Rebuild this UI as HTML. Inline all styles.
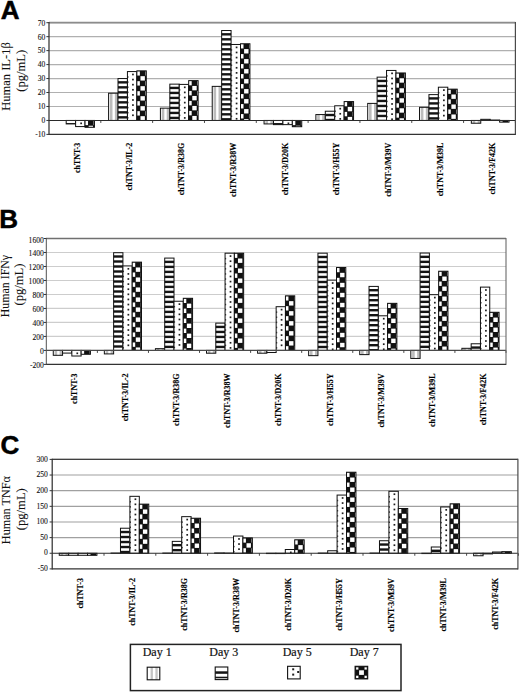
<!DOCTYPE html>
<html><head><meta charset="utf-8"><title>Figure</title>
<style>
html,body{margin:0;padding:0;background:#fff;}
body{width:520px;height:693px;overflow:hidden;font-family:"Liberation Serif", serif;}
svg{display:block;}
</style></head><body>
<svg width="520" height="693" viewBox="0 0 520 693"><rect width="520" height="693" fill="#fff"/><line x1="49" y1="106.48" x2="515.4" y2="106.48" stroke="#b0b0b0" stroke-width="1.15"/>
<line x1="49" y1="92.51" x2="515.4" y2="92.51" stroke="#b0b0b0" stroke-width="1.15"/>
<line x1="49" y1="78.55" x2="515.4" y2="78.55" stroke="#b0b0b0" stroke-width="1.15"/>
<line x1="49" y1="64.59" x2="515.4" y2="64.59" stroke="#b0b0b0" stroke-width="1.15"/>
<line x1="49" y1="50.62" x2="515.4" y2="50.62" stroke="#b0b0b0" stroke-width="1.15"/>
<line x1="49" y1="36.66" x2="515.4" y2="36.66" stroke="#b0b0b0" stroke-width="1.15"/>
<line x1="49" y1="22.7" x2="515.4" y2="22.7" stroke="#b0b0b0" stroke-width="1.15"/>
<line x1="49" y1="22.7" x2="515.4" y2="22.7" stroke="#8c8c8c" stroke-width="1.7"/>
<rect x="66.19" y="120.44" width="9.42" height="3.49" fill="#fff"/>
<rect x="66.19" y="123.04" width="9.42" height="0.89" fill="#141414"/>
<rect x="66.19" y="120.44" width="9.42" height="3.49" fill="none" stroke="#111" stroke-width="1"/>
<rect x="75.61" y="120.44" width="9.42" height="6.14" fill="#fff"/>
<rect x="80.27" y="122.49" width="1.7" height="1.7" fill="#1e1e1e"/>
<rect x="75.61" y="120.44" width="9.42" height="6.14" fill="none" stroke="#111" stroke-width="1"/>
<rect x="85.03" y="120.44" width="9.42" height="6.84" fill="#111"/>
<rect x="85.03" y="120.74" width="3" height="4.4" fill="#fff"/>
<rect x="88.63" y="125.74" width="4.4" height="1.54" fill="#fff"/>
<rect x="93.63" y="120.74" width="0.82" height="4.4" fill="#fff"/>
<rect x="85.03" y="120.44" width="9.42" height="6.84" fill="none" stroke="#111" stroke-width="1"/>
<rect x="108.59" y="93.21" width="9.42" height="27.23" fill="#fff"/>
<rect x="109.89" y="93.21" width="2.6" height="27.23" fill="#bcbcbc"/>
<rect x="114.89" y="93.21" width="2.6" height="27.23" fill="#bcbcbc"/>
<rect x="108.59" y="93.21" width="9.42" height="27.23" fill="none" stroke="#111" stroke-width="1"/>
<rect x="118.01" y="78.55" width="9.42" height="41.89" fill="#fff"/>
<rect x="118.01" y="81.15" width="9.42" height="2.4" fill="#141414"/>
<rect x="118.01" y="86.15" width="9.42" height="2.4" fill="#141414"/>
<rect x="118.01" y="91.15" width="9.42" height="2.4" fill="#141414"/>
<rect x="118.01" y="96.15" width="9.42" height="2.4" fill="#141414"/>
<rect x="118.01" y="101.15" width="9.42" height="2.4" fill="#141414"/>
<rect x="118.01" y="106.15" width="9.42" height="2.4" fill="#141414"/>
<rect x="118.01" y="111.15" width="9.42" height="2.4" fill="#141414"/>
<rect x="118.01" y="116.15" width="9.42" height="2.4" fill="#141414"/>
<rect x="118.01" y="78.55" width="9.42" height="41.89" fill="none" stroke="#111" stroke-width="1"/>
<rect x="127.43" y="71.57" width="9.42" height="48.87" fill="#fff"/>
<rect x="132.09" y="73.62" width="1.7" height="1.7" fill="#1e1e1e"/>
<rect x="132.09" y="78.72" width="1.7" height="1.7" fill="#1e1e1e"/>
<rect x="132.09" y="83.82" width="1.7" height="1.7" fill="#1e1e1e"/>
<rect x="132.09" y="88.92" width="1.7" height="1.7" fill="#1e1e1e"/>
<rect x="132.09" y="94.02" width="1.7" height="1.7" fill="#1e1e1e"/>
<rect x="132.09" y="99.12" width="1.7" height="1.7" fill="#1e1e1e"/>
<rect x="132.09" y="104.22" width="1.7" height="1.7" fill="#1e1e1e"/>
<rect x="132.09" y="109.32" width="1.7" height="1.7" fill="#1e1e1e"/>
<rect x="132.09" y="114.42" width="1.7" height="1.7" fill="#1e1e1e"/>
<rect x="127.43" y="76.27" width="1.1" height="1.5" fill="#444"/>
<rect x="127.43" y="81.37" width="1.1" height="1.5" fill="#444"/>
<rect x="127.43" y="86.47" width="1.1" height="1.5" fill="#444"/>
<rect x="127.43" y="91.57" width="1.1" height="1.5" fill="#444"/>
<rect x="127.43" y="96.67" width="1.1" height="1.5" fill="#444"/>
<rect x="127.43" y="101.77" width="1.1" height="1.5" fill="#444"/>
<rect x="127.43" y="106.87" width="1.1" height="1.5" fill="#444"/>
<rect x="127.43" y="111.97" width="1.1" height="1.5" fill="#444"/>
<rect x="127.43" y="117.07" width="1.1" height="1.5" fill="#444"/>
<rect x="127.43" y="71.57" width="9.42" height="48.87" fill="none" stroke="#111" stroke-width="1"/>
<rect x="136.86" y="70.87" width="9.42" height="49.57" fill="#111"/>
<rect x="136.86" y="71.17" width="3" height="4.4" fill="#fff"/>
<rect x="136.86" y="81.17" width="3" height="4.4" fill="#fff"/>
<rect x="136.86" y="91.17" width="3" height="4.4" fill="#fff"/>
<rect x="136.86" y="101.17" width="3" height="4.4" fill="#fff"/>
<rect x="136.86" y="111.17" width="3" height="4.4" fill="#fff"/>
<rect x="140.46" y="76.17" width="4.4" height="4.4" fill="#fff"/>
<rect x="140.46" y="86.17" width="4.4" height="4.4" fill="#fff"/>
<rect x="140.46" y="96.17" width="4.4" height="4.4" fill="#fff"/>
<rect x="140.46" y="106.17" width="4.4" height="4.4" fill="#fff"/>
<rect x="140.46" y="116.17" width="4.4" height="4.27" fill="#fff"/>
<rect x="145.46" y="71.17" width="0.82" height="4.4" fill="#fff"/>
<rect x="145.46" y="81.17" width="0.82" height="4.4" fill="#fff"/>
<rect x="145.46" y="91.17" width="0.82" height="4.4" fill="#fff"/>
<rect x="145.46" y="101.17" width="0.82" height="4.4" fill="#fff"/>
<rect x="145.46" y="111.17" width="0.82" height="4.4" fill="#fff"/>
<rect x="136.86" y="70.87" width="9.42" height="49.57" fill="none" stroke="#111" stroke-width="1"/>
<rect x="160.41" y="108.15" width="9.42" height="12.29" fill="#fff"/>
<rect x="161.71" y="108.15" width="2.6" height="12.29" fill="#bcbcbc"/>
<rect x="166.71" y="108.15" width="2.6" height="12.29" fill="#bcbcbc"/>
<rect x="160.41" y="108.15" width="9.42" height="12.29" fill="none" stroke="#111" stroke-width="1"/>
<rect x="169.83" y="84.14" width="9.42" height="36.3" fill="#fff"/>
<rect x="169.83" y="86.73" width="9.42" height="2.4" fill="#141414"/>
<rect x="169.83" y="91.73" width="9.42" height="2.4" fill="#141414"/>
<rect x="169.83" y="96.73" width="9.42" height="2.4" fill="#141414"/>
<rect x="169.83" y="101.73" width="9.42" height="2.4" fill="#141414"/>
<rect x="169.83" y="106.73" width="9.42" height="2.4" fill="#141414"/>
<rect x="169.83" y="111.73" width="9.42" height="2.4" fill="#141414"/>
<rect x="169.83" y="116.73" width="9.42" height="2.4" fill="#141414"/>
<rect x="169.83" y="84.14" width="9.42" height="36.3" fill="none" stroke="#111" stroke-width="1"/>
<rect x="179.26" y="84.41" width="9.42" height="36.02" fill="#fff"/>
<rect x="183.92" y="86.46" width="1.7" height="1.7" fill="#1e1e1e"/>
<rect x="183.92" y="91.56" width="1.7" height="1.7" fill="#1e1e1e"/>
<rect x="183.92" y="96.66" width="1.7" height="1.7" fill="#1e1e1e"/>
<rect x="183.92" y="101.76" width="1.7" height="1.7" fill="#1e1e1e"/>
<rect x="183.92" y="106.86" width="1.7" height="1.7" fill="#1e1e1e"/>
<rect x="183.92" y="111.96" width="1.7" height="1.7" fill="#1e1e1e"/>
<rect x="183.92" y="117.06" width="1.7" height="1.7" fill="#1e1e1e"/>
<rect x="179.26" y="89.11" width="1.1" height="1.5" fill="#444"/>
<rect x="179.26" y="94.21" width="1.1" height="1.5" fill="#444"/>
<rect x="179.26" y="99.31" width="1.1" height="1.5" fill="#444"/>
<rect x="179.26" y="104.41" width="1.1" height="1.5" fill="#444"/>
<rect x="179.26" y="109.51" width="1.1" height="1.5" fill="#444"/>
<rect x="179.26" y="114.61" width="1.1" height="1.5" fill="#444"/>
<rect x="179.26" y="84.41" width="9.42" height="36.02" fill="none" stroke="#111" stroke-width="1"/>
<rect x="188.68" y="80.64" width="9.42" height="39.79" fill="#111"/>
<rect x="188.68" y="80.94" width="3" height="4.4" fill="#fff"/>
<rect x="188.68" y="90.94" width="3" height="4.4" fill="#fff"/>
<rect x="188.68" y="100.94" width="3" height="4.4" fill="#fff"/>
<rect x="188.68" y="110.94" width="3" height="4.4" fill="#fff"/>
<rect x="192.28" y="85.94" width="4.4" height="4.4" fill="#fff"/>
<rect x="192.28" y="95.94" width="4.4" height="4.4" fill="#fff"/>
<rect x="192.28" y="105.94" width="4.4" height="4.4" fill="#fff"/>
<rect x="192.28" y="115.94" width="4.4" height="4.4" fill="#fff"/>
<rect x="197.28" y="80.94" width="0.82" height="4.4" fill="#fff"/>
<rect x="197.28" y="90.94" width="0.82" height="4.4" fill="#fff"/>
<rect x="197.28" y="100.94" width="0.82" height="4.4" fill="#fff"/>
<rect x="197.28" y="110.94" width="0.82" height="4.4" fill="#fff"/>
<rect x="188.68" y="80.64" width="9.42" height="39.79" fill="none" stroke="#111" stroke-width="1"/>
<rect x="212.23" y="86.37" width="9.42" height="34.07" fill="#fff"/>
<rect x="213.53" y="86.37" width="2.6" height="34.07" fill="#bcbcbc"/>
<rect x="218.53" y="86.37" width="2.6" height="34.07" fill="#bcbcbc"/>
<rect x="212.23" y="86.37" width="9.42" height="34.07" fill="none" stroke="#111" stroke-width="1"/>
<rect x="221.66" y="30.52" width="9.42" height="89.92" fill="#fff"/>
<rect x="221.66" y="33.12" width="9.42" height="2.4" fill="#141414"/>
<rect x="221.66" y="38.12" width="9.42" height="2.4" fill="#141414"/>
<rect x="221.66" y="43.12" width="9.42" height="2.4" fill="#141414"/>
<rect x="221.66" y="48.12" width="9.42" height="2.4" fill="#141414"/>
<rect x="221.66" y="53.12" width="9.42" height="2.4" fill="#141414"/>
<rect x="221.66" y="58.12" width="9.42" height="2.4" fill="#141414"/>
<rect x="221.66" y="63.12" width="9.42" height="2.4" fill="#141414"/>
<rect x="221.66" y="68.12" width="9.42" height="2.4" fill="#141414"/>
<rect x="221.66" y="73.12" width="9.42" height="2.4" fill="#141414"/>
<rect x="221.66" y="78.12" width="9.42" height="2.4" fill="#141414"/>
<rect x="221.66" y="83.12" width="9.42" height="2.4" fill="#141414"/>
<rect x="221.66" y="88.12" width="9.42" height="2.4" fill="#141414"/>
<rect x="221.66" y="93.12" width="9.42" height="2.4" fill="#141414"/>
<rect x="221.66" y="98.12" width="9.42" height="2.4" fill="#141414"/>
<rect x="221.66" y="103.12" width="9.42" height="2.4" fill="#141414"/>
<rect x="221.66" y="108.12" width="9.42" height="2.4" fill="#141414"/>
<rect x="221.66" y="113.12" width="9.42" height="2.4" fill="#141414"/>
<rect x="221.66" y="118.12" width="9.42" height="2.32" fill="#141414"/>
<rect x="221.66" y="30.52" width="9.42" height="89.92" fill="none" stroke="#111" stroke-width="1"/>
<rect x="231.08" y="44.48" width="9.42" height="75.96" fill="#fff"/>
<rect x="235.74" y="46.53" width="1.7" height="1.7" fill="#1e1e1e"/>
<rect x="235.74" y="51.63" width="1.7" height="1.7" fill="#1e1e1e"/>
<rect x="235.74" y="56.73" width="1.7" height="1.7" fill="#1e1e1e"/>
<rect x="235.74" y="61.83" width="1.7" height="1.7" fill="#1e1e1e"/>
<rect x="235.74" y="66.93" width="1.7" height="1.7" fill="#1e1e1e"/>
<rect x="235.74" y="72.03" width="1.7" height="1.7" fill="#1e1e1e"/>
<rect x="235.74" y="77.13" width="1.7" height="1.7" fill="#1e1e1e"/>
<rect x="235.74" y="82.23" width="1.7" height="1.7" fill="#1e1e1e"/>
<rect x="235.74" y="87.33" width="1.7" height="1.7" fill="#1e1e1e"/>
<rect x="235.74" y="92.43" width="1.7" height="1.7" fill="#1e1e1e"/>
<rect x="235.74" y="97.53" width="1.7" height="1.7" fill="#1e1e1e"/>
<rect x="235.74" y="102.63" width="1.7" height="1.7" fill="#1e1e1e"/>
<rect x="235.74" y="107.73" width="1.7" height="1.7" fill="#1e1e1e"/>
<rect x="235.74" y="112.83" width="1.7" height="1.7" fill="#1e1e1e"/>
<rect x="235.74" y="117.93" width="1.7" height="1.7" fill="#1e1e1e"/>
<rect x="231.08" y="49.18" width="1.1" height="1.5" fill="#444"/>
<rect x="231.08" y="54.28" width="1.1" height="1.5" fill="#444"/>
<rect x="231.08" y="59.38" width="1.1" height="1.5" fill="#444"/>
<rect x="231.08" y="64.48" width="1.1" height="1.5" fill="#444"/>
<rect x="231.08" y="69.58" width="1.1" height="1.5" fill="#444"/>
<rect x="231.08" y="74.68" width="1.1" height="1.5" fill="#444"/>
<rect x="231.08" y="79.78" width="1.1" height="1.5" fill="#444"/>
<rect x="231.08" y="84.88" width="1.1" height="1.5" fill="#444"/>
<rect x="231.08" y="89.98" width="1.1" height="1.5" fill="#444"/>
<rect x="231.08" y="95.08" width="1.1" height="1.5" fill="#444"/>
<rect x="231.08" y="100.18" width="1.1" height="1.5" fill="#444"/>
<rect x="231.08" y="105.28" width="1.1" height="1.5" fill="#444"/>
<rect x="231.08" y="110.38" width="1.1" height="1.5" fill="#444"/>
<rect x="231.08" y="115.48" width="1.1" height="1.5" fill="#444"/>
<rect x="231.08" y="44.48" width="9.42" height="75.96" fill="none" stroke="#111" stroke-width="1"/>
<rect x="240.5" y="43.78" width="9.42" height="76.65" fill="#111"/>
<rect x="240.5" y="44.08" width="3" height="4.4" fill="#fff"/>
<rect x="240.5" y="54.08" width="3" height="4.4" fill="#fff"/>
<rect x="240.5" y="64.08" width="3" height="4.4" fill="#fff"/>
<rect x="240.5" y="74.08" width="3" height="4.4" fill="#fff"/>
<rect x="240.5" y="84.08" width="3" height="4.4" fill="#fff"/>
<rect x="240.5" y="94.08" width="3" height="4.4" fill="#fff"/>
<rect x="240.5" y="104.08" width="3" height="4.4" fill="#fff"/>
<rect x="240.5" y="114.08" width="3" height="4.4" fill="#fff"/>
<rect x="244.1" y="49.08" width="4.4" height="4.4" fill="#fff"/>
<rect x="244.1" y="59.08" width="4.4" height="4.4" fill="#fff"/>
<rect x="244.1" y="69.08" width="4.4" height="4.4" fill="#fff"/>
<rect x="244.1" y="79.08" width="4.4" height="4.4" fill="#fff"/>
<rect x="244.1" y="89.08" width="4.4" height="4.4" fill="#fff"/>
<rect x="244.1" y="99.08" width="4.4" height="4.4" fill="#fff"/>
<rect x="244.1" y="109.08" width="4.4" height="4.4" fill="#fff"/>
<rect x="244.1" y="119.08" width="4.4" height="1.35" fill="#fff"/>
<rect x="249.1" y="44.08" width="0.82" height="4.4" fill="#fff"/>
<rect x="249.1" y="54.08" width="0.82" height="4.4" fill="#fff"/>
<rect x="249.1" y="64.08" width="0.82" height="4.4" fill="#fff"/>
<rect x="249.1" y="74.08" width="0.82" height="4.4" fill="#fff"/>
<rect x="249.1" y="84.08" width="0.82" height="4.4" fill="#fff"/>
<rect x="249.1" y="94.08" width="0.82" height="4.4" fill="#fff"/>
<rect x="249.1" y="104.08" width="0.82" height="4.4" fill="#fff"/>
<rect x="249.1" y="114.08" width="0.82" height="4.4" fill="#fff"/>
<rect x="240.5" y="43.78" width="9.42" height="76.65" fill="none" stroke="#111" stroke-width="1"/>
<rect x="264.06" y="120.44" width="9.42" height="3.49" fill="#fff"/>
<rect x="265.36" y="120.44" width="2.6" height="3.49" fill="#bcbcbc"/>
<rect x="270.36" y="120.44" width="2.6" height="3.49" fill="#bcbcbc"/>
<rect x="264.06" y="120.44" width="9.42" height="3.49" fill="none" stroke="#111" stroke-width="1"/>
<rect x="273.48" y="120.44" width="9.42" height="4.19" fill="#fff"/>
<rect x="273.48" y="123.04" width="9.42" height="1.59" fill="#141414"/>
<rect x="273.48" y="120.44" width="9.42" height="4.19" fill="none" stroke="#111" stroke-width="1"/>
<rect x="282.9" y="120.44" width="9.42" height="4.19" fill="#fff"/>
<rect x="287.56" y="122.49" width="1.7" height="1.7" fill="#1e1e1e"/>
<rect x="282.9" y="120.44" width="9.42" height="4.19" fill="none" stroke="#111" stroke-width="1"/>
<rect x="292.32" y="120.44" width="9.42" height="6.28" fill="#111"/>
<rect x="292.32" y="120.74" width="3" height="4.4" fill="#fff"/>
<rect x="295.92" y="125.74" width="4.4" height="0.98" fill="#fff"/>
<rect x="300.92" y="120.74" width="0.82" height="4.4" fill="#fff"/>
<rect x="292.32" y="120.44" width="9.42" height="6.28" fill="none" stroke="#111" stroke-width="1"/>
<rect x="315.88" y="114.57" width="9.42" height="5.86" fill="#fff"/>
<rect x="317.18" y="114.57" width="2.6" height="5.86" fill="#bcbcbc"/>
<rect x="322.18" y="114.57" width="2.6" height="5.86" fill="#bcbcbc"/>
<rect x="315.88" y="114.57" width="9.42" height="5.86" fill="none" stroke="#111" stroke-width="1"/>
<rect x="325.3" y="111.22" width="9.42" height="9.22" fill="#fff"/>
<rect x="325.3" y="113.82" width="9.42" height="2.4" fill="#141414"/>
<rect x="325.3" y="118.82" width="9.42" height="1.62" fill="#141414"/>
<rect x="325.3" y="111.22" width="9.42" height="9.22" fill="none" stroke="#111" stroke-width="1"/>
<rect x="334.72" y="105.78" width="9.42" height="14.66" fill="#fff"/>
<rect x="339.38" y="107.83" width="1.7" height="1.7" fill="#1e1e1e"/>
<rect x="339.38" y="112.93" width="1.7" height="1.7" fill="#1e1e1e"/>
<rect x="339.38" y="118.03" width="1.7" height="1.7" fill="#1e1e1e"/>
<rect x="334.72" y="110.48" width="1.1" height="1.5" fill="#444"/>
<rect x="334.72" y="115.58" width="1.1" height="1.5" fill="#444"/>
<rect x="334.72" y="105.78" width="9.42" height="14.66" fill="none" stroke="#111" stroke-width="1"/>
<rect x="344.14" y="101.59" width="9.42" height="18.85" fill="#111"/>
<rect x="344.14" y="101.89" width="3" height="4.4" fill="#fff"/>
<rect x="344.14" y="111.89" width="3" height="4.4" fill="#fff"/>
<rect x="347.74" y="106.89" width="4.4" height="4.4" fill="#fff"/>
<rect x="347.74" y="116.89" width="4.4" height="3.55" fill="#fff"/>
<rect x="352.74" y="101.89" width="0.82" height="4.4" fill="#fff"/>
<rect x="352.74" y="111.89" width="0.82" height="4.4" fill="#fff"/>
<rect x="344.14" y="101.59" width="9.42" height="18.85" fill="none" stroke="#111" stroke-width="1"/>
<rect x="367.7" y="103.4" width="9.42" height="17.03" fill="#fff"/>
<rect x="369" y="103.4" width="2.6" height="17.03" fill="#bcbcbc"/>
<rect x="374" y="103.4" width="2.6" height="17.03" fill="#bcbcbc"/>
<rect x="367.7" y="103.4" width="9.42" height="17.03" fill="none" stroke="#111" stroke-width="1"/>
<rect x="377.12" y="77.15" width="9.42" height="43.28" fill="#fff"/>
<rect x="377.12" y="79.75" width="9.42" height="2.4" fill="#141414"/>
<rect x="377.12" y="84.75" width="9.42" height="2.4" fill="#141414"/>
<rect x="377.12" y="89.75" width="9.42" height="2.4" fill="#141414"/>
<rect x="377.12" y="94.75" width="9.42" height="2.4" fill="#141414"/>
<rect x="377.12" y="99.75" width="9.42" height="2.4" fill="#141414"/>
<rect x="377.12" y="104.75" width="9.42" height="2.4" fill="#141414"/>
<rect x="377.12" y="109.75" width="9.42" height="2.4" fill="#141414"/>
<rect x="377.12" y="114.75" width="9.42" height="2.4" fill="#141414"/>
<rect x="377.12" y="119.75" width="9.42" height="0.68" fill="#141414"/>
<rect x="377.12" y="77.15" width="9.42" height="43.28" fill="none" stroke="#111" stroke-width="1"/>
<rect x="386.54" y="70.45" width="9.42" height="49.99" fill="#fff"/>
<rect x="391.21" y="72.5" width="1.7" height="1.7" fill="#1e1e1e"/>
<rect x="391.21" y="77.6" width="1.7" height="1.7" fill="#1e1e1e"/>
<rect x="391.21" y="82.7" width="1.7" height="1.7" fill="#1e1e1e"/>
<rect x="391.21" y="87.8" width="1.7" height="1.7" fill="#1e1e1e"/>
<rect x="391.21" y="92.9" width="1.7" height="1.7" fill="#1e1e1e"/>
<rect x="391.21" y="98" width="1.7" height="1.7" fill="#1e1e1e"/>
<rect x="391.21" y="103.1" width="1.7" height="1.7" fill="#1e1e1e"/>
<rect x="391.21" y="108.2" width="1.7" height="1.7" fill="#1e1e1e"/>
<rect x="391.21" y="113.3" width="1.7" height="1.7" fill="#1e1e1e"/>
<rect x="391.21" y="118.4" width="1.7" height="1.7" fill="#1e1e1e"/>
<rect x="386.54" y="75.15" width="1.1" height="1.5" fill="#444"/>
<rect x="386.54" y="80.25" width="1.1" height="1.5" fill="#444"/>
<rect x="386.54" y="85.35" width="1.1" height="1.5" fill="#444"/>
<rect x="386.54" y="90.45" width="1.1" height="1.5" fill="#444"/>
<rect x="386.54" y="95.55" width="1.1" height="1.5" fill="#444"/>
<rect x="386.54" y="100.65" width="1.1" height="1.5" fill="#444"/>
<rect x="386.54" y="105.75" width="1.1" height="1.5" fill="#444"/>
<rect x="386.54" y="110.85" width="1.1" height="1.5" fill="#444"/>
<rect x="386.54" y="115.95" width="1.1" height="1.5" fill="#444"/>
<rect x="386.54" y="70.45" width="9.42" height="49.99" fill="none" stroke="#111" stroke-width="1"/>
<rect x="395.97" y="72.97" width="9.42" height="47.47" fill="#111"/>
<rect x="395.97" y="73.27" width="3" height="4.4" fill="#fff"/>
<rect x="395.97" y="83.27" width="3" height="4.4" fill="#fff"/>
<rect x="395.97" y="93.27" width="3" height="4.4" fill="#fff"/>
<rect x="395.97" y="103.27" width="3" height="4.4" fill="#fff"/>
<rect x="395.97" y="113.27" width="3" height="4.4" fill="#fff"/>
<rect x="399.57" y="78.27" width="4.4" height="4.4" fill="#fff"/>
<rect x="399.57" y="88.27" width="4.4" height="4.4" fill="#fff"/>
<rect x="399.57" y="98.27" width="4.4" height="4.4" fill="#fff"/>
<rect x="399.57" y="108.27" width="4.4" height="4.4" fill="#fff"/>
<rect x="399.57" y="118.27" width="4.4" height="2.17" fill="#fff"/>
<rect x="404.57" y="73.27" width="0.82" height="4.4" fill="#fff"/>
<rect x="404.57" y="83.27" width="0.82" height="4.4" fill="#fff"/>
<rect x="404.57" y="93.27" width="0.82" height="4.4" fill="#fff"/>
<rect x="404.57" y="103.27" width="0.82" height="4.4" fill="#fff"/>
<rect x="404.57" y="113.27" width="0.82" height="4.4" fill="#fff"/>
<rect x="395.97" y="72.97" width="9.42" height="47.47" fill="none" stroke="#111" stroke-width="1"/>
<rect x="419.52" y="107.31" width="9.42" height="13.12" fill="#fff"/>
<rect x="420.82" y="107.31" width="2.6" height="13.12" fill="#bcbcbc"/>
<rect x="425.82" y="107.31" width="2.6" height="13.12" fill="#bcbcbc"/>
<rect x="419.52" y="107.31" width="9.42" height="13.12" fill="none" stroke="#111" stroke-width="1"/>
<rect x="428.94" y="94.61" width="9.42" height="25.83" fill="#fff"/>
<rect x="428.94" y="97.21" width="9.42" height="2.4" fill="#141414"/>
<rect x="428.94" y="102.21" width="9.42" height="2.4" fill="#141414"/>
<rect x="428.94" y="107.21" width="9.42" height="2.4" fill="#141414"/>
<rect x="428.94" y="112.21" width="9.42" height="2.4" fill="#141414"/>
<rect x="428.94" y="117.21" width="9.42" height="2.4" fill="#141414"/>
<rect x="428.94" y="94.61" width="9.42" height="25.83" fill="none" stroke="#111" stroke-width="1"/>
<rect x="438.37" y="87.21" width="9.42" height="33.23" fill="#fff"/>
<rect x="443.03" y="89.26" width="1.7" height="1.7" fill="#1e1e1e"/>
<rect x="443.03" y="94.36" width="1.7" height="1.7" fill="#1e1e1e"/>
<rect x="443.03" y="99.46" width="1.7" height="1.7" fill="#1e1e1e"/>
<rect x="443.03" y="104.56" width="1.7" height="1.7" fill="#1e1e1e"/>
<rect x="443.03" y="109.66" width="1.7" height="1.7" fill="#1e1e1e"/>
<rect x="443.03" y="114.76" width="1.7" height="1.7" fill="#1e1e1e"/>
<rect x="438.37" y="91.91" width="1.1" height="1.5" fill="#444"/>
<rect x="438.37" y="97.01" width="1.1" height="1.5" fill="#444"/>
<rect x="438.37" y="102.11" width="1.1" height="1.5" fill="#444"/>
<rect x="438.37" y="107.21" width="1.1" height="1.5" fill="#444"/>
<rect x="438.37" y="112.31" width="1.1" height="1.5" fill="#444"/>
<rect x="438.37" y="117.41" width="1.1" height="1.5" fill="#444"/>
<rect x="438.37" y="87.21" width="9.42" height="33.23" fill="none" stroke="#111" stroke-width="1"/>
<rect x="447.79" y="89.16" width="9.42" height="31.28" fill="#111"/>
<rect x="447.79" y="89.46" width="3" height="4.4" fill="#fff"/>
<rect x="447.79" y="99.46" width="3" height="4.4" fill="#fff"/>
<rect x="447.79" y="109.46" width="3" height="4.4" fill="#fff"/>
<rect x="447.79" y="119.46" width="3" height="0.98" fill="#fff"/>
<rect x="451.39" y="94.46" width="4.4" height="4.4" fill="#fff"/>
<rect x="451.39" y="104.46" width="4.4" height="4.4" fill="#fff"/>
<rect x="451.39" y="114.46" width="4.4" height="4.4" fill="#fff"/>
<rect x="456.39" y="89.46" width="0.82" height="4.4" fill="#fff"/>
<rect x="456.39" y="99.46" width="0.82" height="4.4" fill="#fff"/>
<rect x="456.39" y="109.46" width="0.82" height="4.4" fill="#fff"/>
<rect x="456.39" y="119.46" width="0.82" height="0.98" fill="#fff"/>
<rect x="447.79" y="89.16" width="9.42" height="31.28" fill="none" stroke="#111" stroke-width="1"/>
<rect x="471.34" y="120.44" width="9.42" height="2.79" fill="#fff"/>
<rect x="472.64" y="120.44" width="2.6" height="2.79" fill="#bcbcbc"/>
<rect x="477.64" y="120.44" width="2.6" height="2.79" fill="#bcbcbc"/>
<rect x="471.34" y="120.44" width="9.42" height="2.79" fill="none" stroke="#111" stroke-width="1"/>
<rect x="480.77" y="119.32" width="9.42" height="1.12" fill="#fff"/>
<rect x="480.77" y="119.32" width="9.42" height="1.12" fill="none" stroke="#111" stroke-width="1"/>
<rect x="490.19" y="120.02" width="9.42" height="0.42" fill="#fff"/>
<rect x="490.19" y="120.02" width="9.42" height="0.42" fill="none" stroke="#111" stroke-width="1"/>
<rect x="499.61" y="120.44" width="9.42" height="1.68" fill="#111"/>
<rect x="499.61" y="120.74" width="3" height="1.38" fill="#fff"/>
<rect x="508.21" y="120.74" width="0.82" height="1.38" fill="#fff"/>
<rect x="499.61" y="120.44" width="9.42" height="1.68" fill="none" stroke="#111" stroke-width="1"/>
<line x1="49" y1="120.44" x2="515.4" y2="120.44" stroke="#2a2a2a" stroke-width="1.1"/>
<line x1="100.82" y1="120.44" x2="100.82" y2="122.94" stroke="#333" stroke-width="0.9"/>
<line x1="152.64" y1="120.44" x2="152.64" y2="122.94" stroke="#333" stroke-width="0.9"/>
<line x1="204.47" y1="120.44" x2="204.47" y2="122.94" stroke="#333" stroke-width="0.9"/>
<line x1="256.29" y1="120.44" x2="256.29" y2="122.94" stroke="#333" stroke-width="0.9"/>
<line x1="308.11" y1="120.44" x2="308.11" y2="122.94" stroke="#333" stroke-width="0.9"/>
<line x1="359.93" y1="120.44" x2="359.93" y2="122.94" stroke="#333" stroke-width="0.9"/>
<line x1="411.76" y1="120.44" x2="411.76" y2="122.94" stroke="#333" stroke-width="0.9"/>
<line x1="463.58" y1="120.44" x2="463.58" y2="122.94" stroke="#333" stroke-width="0.9"/>
<line x1="515.4" y1="120.44" x2="515.4" y2="122.94" stroke="#333" stroke-width="0.9"/>
<line x1="49" y1="22.1" x2="49" y2="135" stroke="#2a2a2a" stroke-width="1.2"/>
<line x1="515.4" y1="22.1" x2="515.4" y2="135" stroke="#4a4a4a" stroke-width="1.2"/>
<line x1="49" y1="134.4" x2="515.4" y2="134.4" stroke="#333" stroke-width="1.3"/>
<line x1="46.4" y1="134.4" x2="49" y2="134.4" stroke="#333" stroke-width="1"/>
<text x="45.3" y="137.25" font-family='"Liberation Serif", serif' font-size="7.6" text-anchor="end" fill="#111" stroke="#111" stroke-width="0.1">-10</text>
<line x1="46.4" y1="120.44" x2="49" y2="120.44" stroke="#333" stroke-width="1"/>
<text x="45.3" y="123.29" font-family='"Liberation Serif", serif' font-size="7.6" text-anchor="end" fill="#111" stroke="#111" stroke-width="0.1">0</text>
<line x1="46.4" y1="106.48" x2="49" y2="106.48" stroke="#333" stroke-width="1"/>
<text x="45.3" y="109.33" font-family='"Liberation Serif", serif' font-size="7.6" text-anchor="end" fill="#111" stroke="#111" stroke-width="0.1">10</text>
<line x1="46.4" y1="92.51" x2="49" y2="92.51" stroke="#333" stroke-width="1"/>
<text x="45.3" y="95.36" font-family='"Liberation Serif", serif' font-size="7.6" text-anchor="end" fill="#111" stroke="#111" stroke-width="0.1">20</text>
<line x1="46.4" y1="78.55" x2="49" y2="78.55" stroke="#333" stroke-width="1"/>
<text x="45.3" y="81.4" font-family='"Liberation Serif", serif' font-size="7.6" text-anchor="end" fill="#111" stroke="#111" stroke-width="0.1">30</text>
<line x1="46.4" y1="64.59" x2="49" y2="64.59" stroke="#333" stroke-width="1"/>
<text x="45.3" y="67.44" font-family='"Liberation Serif", serif' font-size="7.6" text-anchor="end" fill="#111" stroke="#111" stroke-width="0.1">40</text>
<line x1="46.4" y1="50.62" x2="49" y2="50.62" stroke="#333" stroke-width="1"/>
<text x="45.3" y="53.48" font-family='"Liberation Serif", serif' font-size="7.6" text-anchor="end" fill="#111" stroke="#111" stroke-width="0.1">50</text>
<line x1="46.4" y1="36.66" x2="49" y2="36.66" stroke="#333" stroke-width="1"/>
<text x="45.3" y="39.51" font-family='"Liberation Serif", serif' font-size="7.6" text-anchor="end" fill="#111" stroke="#111" stroke-width="0.1">60</text>
<line x1="46.4" y1="22.7" x2="49" y2="22.7" stroke="#333" stroke-width="1"/>
<text x="45.3" y="25.55" font-family='"Liberation Serif", serif' font-size="7.6" text-anchor="end" fill="#111" stroke="#111" stroke-width="0.1">70</text>
<text transform="translate(80.21,142.7) rotate(-90)" font-family='"Liberation Serif", serif' font-weight="bold" font-size="8.0" text-anchor="end" fill="#000" stroke="#000" stroke-width="0.15">chTNT-3</text>
<text transform="translate(132.03,142.7) rotate(-90)" font-family='"Liberation Serif", serif' font-weight="bold" font-size="8.0" text-anchor="end" fill="#000" stroke="#000" stroke-width="0.15">chTNT-3/IL-2</text>
<text transform="translate(183.86,142.7) rotate(-90)" font-family='"Liberation Serif", serif' font-weight="bold" font-size="8.0" text-anchor="end" fill="#000" stroke="#000" stroke-width="0.15">chTNT-3/R38G</text>
<text transform="translate(235.68,142.7) rotate(-90)" font-family='"Liberation Serif", serif' font-weight="bold" font-size="8.0" text-anchor="end" fill="#000" stroke="#000" stroke-width="0.15">chTNT-3/R38W</text>
<text transform="translate(287.5,142.7) rotate(-90)" font-family='"Liberation Serif", serif' font-weight="bold" font-size="8.0" text-anchor="end" fill="#000" stroke="#000" stroke-width="0.15">chTNT-3/D20K</text>
<text transform="translate(339.32,142.7) rotate(-90)" font-family='"Liberation Serif", serif' font-weight="bold" font-size="8.0" text-anchor="end" fill="#000" stroke="#000" stroke-width="0.15">chTNT-3/H55Y</text>
<text transform="translate(391.14,142.7) rotate(-90)" font-family='"Liberation Serif", serif' font-weight="bold" font-size="8.0" text-anchor="end" fill="#000" stroke="#000" stroke-width="0.15">chTNT-3/M39V</text>
<text transform="translate(442.97,142.7) rotate(-90)" font-family='"Liberation Serif", serif' font-weight="bold" font-size="8.0" text-anchor="end" fill="#000" stroke="#000" stroke-width="0.15">chTNT-3/M39L</text>
<text transform="translate(494.79,142.7) rotate(-90)" font-family='"Liberation Serif", serif' font-weight="bold" font-size="8.0" text-anchor="end" fill="#000" stroke="#000" stroke-width="0.15">chTNT-3/F42K</text>
<text transform="translate(10,76.5) rotate(-90)" font-family='"Liberation Serif", serif' font-size="12.5" text-anchor="middle" fill="#111" stroke="#111" stroke-width="0.08">Human IL-1β</text>
<text transform="translate(24.9,70.8) rotate(-90)" font-family='"Liberation Serif", serif' font-size="12.6" text-anchor="middle" fill="#111" stroke="#111" stroke-width="0.08">(pg/mL)</text>
<line x1="46.3" y1="336.42" x2="506" y2="336.42" stroke="#cdcdcd" stroke-width="1.15"/>
<line x1="46.3" y1="322.43" x2="506" y2="322.43" stroke="#cdcdcd" stroke-width="1.15"/>
<line x1="46.3" y1="308.44" x2="506" y2="308.44" stroke="#cdcdcd" stroke-width="1.15"/>
<line x1="46.3" y1="294.46" x2="506" y2="294.46" stroke="#cdcdcd" stroke-width="1.15"/>
<line x1="46.3" y1="280.47" x2="506" y2="280.47" stroke="#cdcdcd" stroke-width="1.15"/>
<line x1="46.3" y1="266.48" x2="506" y2="266.48" stroke="#cdcdcd" stroke-width="1.15"/>
<line x1="46.3" y1="252.49" x2="506" y2="252.49" stroke="#cdcdcd" stroke-width="1.15"/>
<line x1="46.3" y1="238.5" x2="506" y2="238.5" stroke="#cdcdcd" stroke-width="1.15"/>
<line x1="46.3" y1="238.5" x2="506" y2="238.5" stroke="#707070" stroke-width="1.3"/>
<rect x="53.27" y="350.41" width="9.29" height="4.9" fill="#fff"/>
<rect x="54.57" y="350.41" width="2.6" height="4.9" fill="#bcbcbc"/>
<rect x="59.57" y="350.41" width="2.6" height="4.9" fill="#bcbcbc"/>
<rect x="53.27" y="350.41" width="9.29" height="4.9" fill="none" stroke="#111" stroke-width="1"/>
<rect x="62.55" y="350.41" width="9.29" height="2.66" fill="#fff"/>
<rect x="62.55" y="353.01" width="9.29" height="0.06" fill="#141414"/>
<rect x="62.55" y="350.41" width="9.29" height="2.66" fill="none" stroke="#111" stroke-width="1"/>
<rect x="71.84" y="350.41" width="9.29" height="5.6" fill="#fff"/>
<rect x="76.43" y="352.46" width="1.7" height="1.7" fill="#1e1e1e"/>
<rect x="71.84" y="350.41" width="9.29" height="5.6" fill="none" stroke="#111" stroke-width="1"/>
<rect x="81.13" y="350.41" width="9.29" height="3.85" fill="#111"/>
<rect x="81.13" y="350.71" width="3" height="3.55" fill="#fff"/>
<rect x="89.73" y="350.71" width="0.69" height="3.55" fill="#fff"/>
<rect x="81.13" y="350.41" width="9.29" height="3.85" fill="none" stroke="#111" stroke-width="1"/>
<rect x="104.34" y="350.41" width="9.29" height="3.5" fill="#fff"/>
<rect x="105.64" y="350.41" width="2.6" height="3.5" fill="#bcbcbc"/>
<rect x="110.64" y="350.41" width="2.6" height="3.5" fill="#bcbcbc"/>
<rect x="104.34" y="350.41" width="9.29" height="3.5" fill="none" stroke="#111" stroke-width="1"/>
<rect x="113.63" y="252.7" width="9.29" height="97.71" fill="#fff"/>
<rect x="113.63" y="255.3" width="9.29" height="2.4" fill="#141414"/>
<rect x="113.63" y="260.3" width="9.29" height="2.4" fill="#141414"/>
<rect x="113.63" y="265.3" width="9.29" height="2.4" fill="#141414"/>
<rect x="113.63" y="270.3" width="9.29" height="2.4" fill="#141414"/>
<rect x="113.63" y="275.3" width="9.29" height="2.4" fill="#141414"/>
<rect x="113.63" y="280.3" width="9.29" height="2.4" fill="#141414"/>
<rect x="113.63" y="285.3" width="9.29" height="2.4" fill="#141414"/>
<rect x="113.63" y="290.3" width="9.29" height="2.4" fill="#141414"/>
<rect x="113.63" y="295.3" width="9.29" height="2.4" fill="#141414"/>
<rect x="113.63" y="300.3" width="9.29" height="2.4" fill="#141414"/>
<rect x="113.63" y="305.3" width="9.29" height="2.4" fill="#141414"/>
<rect x="113.63" y="310.3" width="9.29" height="2.4" fill="#141414"/>
<rect x="113.63" y="315.3" width="9.29" height="2.4" fill="#141414"/>
<rect x="113.63" y="320.3" width="9.29" height="2.4" fill="#141414"/>
<rect x="113.63" y="325.3" width="9.29" height="2.4" fill="#141414"/>
<rect x="113.63" y="330.3" width="9.29" height="2.4" fill="#141414"/>
<rect x="113.63" y="335.3" width="9.29" height="2.4" fill="#141414"/>
<rect x="113.63" y="340.3" width="9.29" height="2.4" fill="#141414"/>
<rect x="113.63" y="345.3" width="9.29" height="2.4" fill="#141414"/>
<rect x="113.63" y="350.3" width="9.29" height="0.11" fill="#141414"/>
<rect x="113.63" y="252.7" width="9.29" height="97.71" fill="none" stroke="#111" stroke-width="1"/>
<rect x="122.92" y="265.92" width="9.29" height="84.49" fill="#fff"/>
<rect x="127.51" y="267.97" width="1.7" height="1.7" fill="#1e1e1e"/>
<rect x="127.51" y="273.07" width="1.7" height="1.7" fill="#1e1e1e"/>
<rect x="127.51" y="278.17" width="1.7" height="1.7" fill="#1e1e1e"/>
<rect x="127.51" y="283.27" width="1.7" height="1.7" fill="#1e1e1e"/>
<rect x="127.51" y="288.37" width="1.7" height="1.7" fill="#1e1e1e"/>
<rect x="127.51" y="293.47" width="1.7" height="1.7" fill="#1e1e1e"/>
<rect x="127.51" y="298.57" width="1.7" height="1.7" fill="#1e1e1e"/>
<rect x="127.51" y="303.67" width="1.7" height="1.7" fill="#1e1e1e"/>
<rect x="127.51" y="308.77" width="1.7" height="1.7" fill="#1e1e1e"/>
<rect x="127.51" y="313.87" width="1.7" height="1.7" fill="#1e1e1e"/>
<rect x="127.51" y="318.97" width="1.7" height="1.7" fill="#1e1e1e"/>
<rect x="127.51" y="324.07" width="1.7" height="1.7" fill="#1e1e1e"/>
<rect x="127.51" y="329.17" width="1.7" height="1.7" fill="#1e1e1e"/>
<rect x="127.51" y="334.27" width="1.7" height="1.7" fill="#1e1e1e"/>
<rect x="127.51" y="339.37" width="1.7" height="1.7" fill="#1e1e1e"/>
<rect x="127.51" y="344.47" width="1.7" height="1.7" fill="#1e1e1e"/>
<rect x="122.92" y="270.62" width="1.1" height="1.5" fill="#444"/>
<rect x="122.92" y="275.72" width="1.1" height="1.5" fill="#444"/>
<rect x="122.92" y="280.82" width="1.1" height="1.5" fill="#444"/>
<rect x="122.92" y="285.92" width="1.1" height="1.5" fill="#444"/>
<rect x="122.92" y="291.02" width="1.1" height="1.5" fill="#444"/>
<rect x="122.92" y="296.12" width="1.1" height="1.5" fill="#444"/>
<rect x="122.92" y="301.22" width="1.1" height="1.5" fill="#444"/>
<rect x="122.92" y="306.32" width="1.1" height="1.5" fill="#444"/>
<rect x="122.92" y="311.42" width="1.1" height="1.5" fill="#444"/>
<rect x="122.92" y="316.52" width="1.1" height="1.5" fill="#444"/>
<rect x="122.92" y="321.62" width="1.1" height="1.5" fill="#444"/>
<rect x="122.92" y="326.72" width="1.1" height="1.5" fill="#444"/>
<rect x="122.92" y="331.82" width="1.1" height="1.5" fill="#444"/>
<rect x="122.92" y="336.92" width="1.1" height="1.5" fill="#444"/>
<rect x="122.92" y="342.02" width="1.1" height="1.5" fill="#444"/>
<rect x="122.92" y="347.12" width="1.1" height="1.5" fill="#444"/>
<rect x="122.92" y="265.92" width="9.29" height="84.49" fill="none" stroke="#111" stroke-width="1"/>
<rect x="132.2" y="262.14" width="9.29" height="88.27" fill="#111"/>
<rect x="132.2" y="262.44" width="3" height="4.4" fill="#fff"/>
<rect x="132.2" y="272.44" width="3" height="4.4" fill="#fff"/>
<rect x="132.2" y="282.44" width="3" height="4.4" fill="#fff"/>
<rect x="132.2" y="292.44" width="3" height="4.4" fill="#fff"/>
<rect x="132.2" y="302.44" width="3" height="4.4" fill="#fff"/>
<rect x="132.2" y="312.44" width="3" height="4.4" fill="#fff"/>
<rect x="132.2" y="322.44" width="3" height="4.4" fill="#fff"/>
<rect x="132.2" y="332.44" width="3" height="4.4" fill="#fff"/>
<rect x="132.2" y="342.44" width="3" height="4.4" fill="#fff"/>
<rect x="135.8" y="267.44" width="4.4" height="4.4" fill="#fff"/>
<rect x="135.8" y="277.44" width="4.4" height="4.4" fill="#fff"/>
<rect x="135.8" y="287.44" width="4.4" height="4.4" fill="#fff"/>
<rect x="135.8" y="297.44" width="4.4" height="4.4" fill="#fff"/>
<rect x="135.8" y="307.44" width="4.4" height="4.4" fill="#fff"/>
<rect x="135.8" y="317.44" width="4.4" height="4.4" fill="#fff"/>
<rect x="135.8" y="327.44" width="4.4" height="4.4" fill="#fff"/>
<rect x="135.8" y="337.44" width="4.4" height="4.4" fill="#fff"/>
<rect x="135.8" y="347.44" width="4.4" height="2.97" fill="#fff"/>
<rect x="140.8" y="262.44" width="0.69" height="4.4" fill="#fff"/>
<rect x="140.8" y="272.44" width="0.69" height="4.4" fill="#fff"/>
<rect x="140.8" y="282.44" width="0.69" height="4.4" fill="#fff"/>
<rect x="140.8" y="292.44" width="0.69" height="4.4" fill="#fff"/>
<rect x="140.8" y="302.44" width="0.69" height="4.4" fill="#fff"/>
<rect x="140.8" y="312.44" width="0.69" height="4.4" fill="#fff"/>
<rect x="140.8" y="322.44" width="0.69" height="4.4" fill="#fff"/>
<rect x="140.8" y="332.44" width="0.69" height="4.4" fill="#fff"/>
<rect x="140.8" y="342.44" width="0.69" height="4.4" fill="#fff"/>
<rect x="132.2" y="262.14" width="9.29" height="88.27" fill="none" stroke="#111" stroke-width="1"/>
<rect x="155.42" y="348.66" width="9.29" height="1.75" fill="#fff"/>
<rect x="156.72" y="348.66" width="2.6" height="1.75" fill="#bcbcbc"/>
<rect x="161.72" y="348.66" width="2.6" height="1.75" fill="#bcbcbc"/>
<rect x="155.42" y="348.66" width="9.29" height="1.75" fill="none" stroke="#111" stroke-width="1"/>
<rect x="164.71" y="258.08" width="9.29" height="92.33" fill="#fff"/>
<rect x="164.71" y="260.68" width="9.29" height="2.4" fill="#141414"/>
<rect x="164.71" y="265.68" width="9.29" height="2.4" fill="#141414"/>
<rect x="164.71" y="270.68" width="9.29" height="2.4" fill="#141414"/>
<rect x="164.71" y="275.68" width="9.29" height="2.4" fill="#141414"/>
<rect x="164.71" y="280.68" width="9.29" height="2.4" fill="#141414"/>
<rect x="164.71" y="285.68" width="9.29" height="2.4" fill="#141414"/>
<rect x="164.71" y="290.68" width="9.29" height="2.4" fill="#141414"/>
<rect x="164.71" y="295.68" width="9.29" height="2.4" fill="#141414"/>
<rect x="164.71" y="300.68" width="9.29" height="2.4" fill="#141414"/>
<rect x="164.71" y="305.68" width="9.29" height="2.4" fill="#141414"/>
<rect x="164.71" y="310.68" width="9.29" height="2.4" fill="#141414"/>
<rect x="164.71" y="315.68" width="9.29" height="2.4" fill="#141414"/>
<rect x="164.71" y="320.68" width="9.29" height="2.4" fill="#141414"/>
<rect x="164.71" y="325.68" width="9.29" height="2.4" fill="#141414"/>
<rect x="164.71" y="330.68" width="9.29" height="2.4" fill="#141414"/>
<rect x="164.71" y="335.68" width="9.29" height="2.4" fill="#141414"/>
<rect x="164.71" y="340.68" width="9.29" height="2.4" fill="#141414"/>
<rect x="164.71" y="345.68" width="9.29" height="2.4" fill="#141414"/>
<rect x="164.71" y="258.08" width="9.29" height="92.33" fill="none" stroke="#111" stroke-width="1"/>
<rect x="173.99" y="301.24" width="9.29" height="49.17" fill="#fff"/>
<rect x="178.59" y="303.29" width="1.7" height="1.7" fill="#1e1e1e"/>
<rect x="178.59" y="308.39" width="1.7" height="1.7" fill="#1e1e1e"/>
<rect x="178.59" y="313.49" width="1.7" height="1.7" fill="#1e1e1e"/>
<rect x="178.59" y="318.59" width="1.7" height="1.7" fill="#1e1e1e"/>
<rect x="178.59" y="323.69" width="1.7" height="1.7" fill="#1e1e1e"/>
<rect x="178.59" y="328.79" width="1.7" height="1.7" fill="#1e1e1e"/>
<rect x="178.59" y="333.89" width="1.7" height="1.7" fill="#1e1e1e"/>
<rect x="178.59" y="338.99" width="1.7" height="1.7" fill="#1e1e1e"/>
<rect x="178.59" y="344.09" width="1.7" height="1.7" fill="#1e1e1e"/>
<rect x="173.99" y="305.94" width="1.1" height="1.5" fill="#444"/>
<rect x="173.99" y="311.04" width="1.1" height="1.5" fill="#444"/>
<rect x="173.99" y="316.14" width="1.1" height="1.5" fill="#444"/>
<rect x="173.99" y="321.24" width="1.1" height="1.5" fill="#444"/>
<rect x="173.99" y="326.34" width="1.1" height="1.5" fill="#444"/>
<rect x="173.99" y="331.44" width="1.1" height="1.5" fill="#444"/>
<rect x="173.99" y="336.54" width="1.1" height="1.5" fill="#444"/>
<rect x="173.99" y="341.64" width="1.1" height="1.5" fill="#444"/>
<rect x="173.99" y="346.74" width="1.1" height="1.5" fill="#444"/>
<rect x="173.99" y="301.24" width="9.29" height="49.17" fill="none" stroke="#111" stroke-width="1"/>
<rect x="183.28" y="298.3" width="9.29" height="52.11" fill="#111"/>
<rect x="183.28" y="298.6" width="3" height="4.4" fill="#fff"/>
<rect x="183.28" y="308.6" width="3" height="4.4" fill="#fff"/>
<rect x="183.28" y="318.6" width="3" height="4.4" fill="#fff"/>
<rect x="183.28" y="328.6" width="3" height="4.4" fill="#fff"/>
<rect x="183.28" y="338.6" width="3" height="4.4" fill="#fff"/>
<rect x="183.28" y="348.6" width="3" height="1.81" fill="#fff"/>
<rect x="186.88" y="303.6" width="4.4" height="4.4" fill="#fff"/>
<rect x="186.88" y="313.6" width="4.4" height="4.4" fill="#fff"/>
<rect x="186.88" y="323.6" width="4.4" height="4.4" fill="#fff"/>
<rect x="186.88" y="333.6" width="4.4" height="4.4" fill="#fff"/>
<rect x="186.88" y="343.6" width="4.4" height="4.4" fill="#fff"/>
<rect x="191.88" y="298.6" width="0.69" height="4.4" fill="#fff"/>
<rect x="191.88" y="308.6" width="0.69" height="4.4" fill="#fff"/>
<rect x="191.88" y="318.6" width="0.69" height="4.4" fill="#fff"/>
<rect x="191.88" y="328.6" width="0.69" height="4.4" fill="#fff"/>
<rect x="191.88" y="338.6" width="0.69" height="4.4" fill="#fff"/>
<rect x="191.88" y="348.6" width="0.69" height="1.81" fill="#fff"/>
<rect x="183.28" y="298.3" width="9.29" height="52.11" fill="none" stroke="#111" stroke-width="1"/>
<rect x="206.5" y="350.41" width="9.29" height="2.8" fill="#fff"/>
<rect x="207.8" y="350.41" width="2.6" height="2.8" fill="#bcbcbc"/>
<rect x="212.8" y="350.41" width="2.6" height="2.8" fill="#bcbcbc"/>
<rect x="206.5" y="350.41" width="9.29" height="2.8" fill="none" stroke="#111" stroke-width="1"/>
<rect x="215.79" y="323.13" width="9.29" height="27.28" fill="#fff"/>
<rect x="215.79" y="325.73" width="9.29" height="2.4" fill="#141414"/>
<rect x="215.79" y="330.73" width="9.29" height="2.4" fill="#141414"/>
<rect x="215.79" y="335.73" width="9.29" height="2.4" fill="#141414"/>
<rect x="215.79" y="340.73" width="9.29" height="2.4" fill="#141414"/>
<rect x="215.79" y="345.73" width="9.29" height="2.4" fill="#141414"/>
<rect x="215.79" y="323.13" width="9.29" height="27.28" fill="none" stroke="#111" stroke-width="1"/>
<rect x="225.07" y="253.19" width="9.29" height="97.22" fill="#fff"/>
<rect x="229.67" y="255.24" width="1.7" height="1.7" fill="#1e1e1e"/>
<rect x="229.67" y="260.34" width="1.7" height="1.7" fill="#1e1e1e"/>
<rect x="229.67" y="265.44" width="1.7" height="1.7" fill="#1e1e1e"/>
<rect x="229.67" y="270.54" width="1.7" height="1.7" fill="#1e1e1e"/>
<rect x="229.67" y="275.64" width="1.7" height="1.7" fill="#1e1e1e"/>
<rect x="229.67" y="280.74" width="1.7" height="1.7" fill="#1e1e1e"/>
<rect x="229.67" y="285.84" width="1.7" height="1.7" fill="#1e1e1e"/>
<rect x="229.67" y="290.94" width="1.7" height="1.7" fill="#1e1e1e"/>
<rect x="229.67" y="296.04" width="1.7" height="1.7" fill="#1e1e1e"/>
<rect x="229.67" y="301.14" width="1.7" height="1.7" fill="#1e1e1e"/>
<rect x="229.67" y="306.24" width="1.7" height="1.7" fill="#1e1e1e"/>
<rect x="229.67" y="311.34" width="1.7" height="1.7" fill="#1e1e1e"/>
<rect x="229.67" y="316.44" width="1.7" height="1.7" fill="#1e1e1e"/>
<rect x="229.67" y="321.54" width="1.7" height="1.7" fill="#1e1e1e"/>
<rect x="229.67" y="326.64" width="1.7" height="1.7" fill="#1e1e1e"/>
<rect x="229.67" y="331.74" width="1.7" height="1.7" fill="#1e1e1e"/>
<rect x="229.67" y="336.84" width="1.7" height="1.7" fill="#1e1e1e"/>
<rect x="229.67" y="341.94" width="1.7" height="1.7" fill="#1e1e1e"/>
<rect x="229.67" y="347.04" width="1.7" height="1.7" fill="#1e1e1e"/>
<rect x="225.07" y="257.89" width="1.1" height="1.5" fill="#444"/>
<rect x="225.07" y="262.99" width="1.1" height="1.5" fill="#444"/>
<rect x="225.07" y="268.09" width="1.1" height="1.5" fill="#444"/>
<rect x="225.07" y="273.19" width="1.1" height="1.5" fill="#444"/>
<rect x="225.07" y="278.29" width="1.1" height="1.5" fill="#444"/>
<rect x="225.07" y="283.39" width="1.1" height="1.5" fill="#444"/>
<rect x="225.07" y="288.49" width="1.1" height="1.5" fill="#444"/>
<rect x="225.07" y="293.59" width="1.1" height="1.5" fill="#444"/>
<rect x="225.07" y="298.69" width="1.1" height="1.5" fill="#444"/>
<rect x="225.07" y="303.79" width="1.1" height="1.5" fill="#444"/>
<rect x="225.07" y="308.89" width="1.1" height="1.5" fill="#444"/>
<rect x="225.07" y="313.99" width="1.1" height="1.5" fill="#444"/>
<rect x="225.07" y="319.09" width="1.1" height="1.5" fill="#444"/>
<rect x="225.07" y="324.19" width="1.1" height="1.5" fill="#444"/>
<rect x="225.07" y="329.29" width="1.1" height="1.5" fill="#444"/>
<rect x="225.07" y="334.39" width="1.1" height="1.5" fill="#444"/>
<rect x="225.07" y="339.49" width="1.1" height="1.5" fill="#444"/>
<rect x="225.07" y="344.59" width="1.1" height="1.5" fill="#444"/>
<rect x="225.07" y="253.19" width="9.29" height="97.22" fill="none" stroke="#111" stroke-width="1"/>
<rect x="234.36" y="253.19" width="9.29" height="97.22" fill="#111"/>
<rect x="234.36" y="253.49" width="3" height="4.4" fill="#fff"/>
<rect x="234.36" y="263.49" width="3" height="4.4" fill="#fff"/>
<rect x="234.36" y="273.49" width="3" height="4.4" fill="#fff"/>
<rect x="234.36" y="283.49" width="3" height="4.4" fill="#fff"/>
<rect x="234.36" y="293.49" width="3" height="4.4" fill="#fff"/>
<rect x="234.36" y="303.49" width="3" height="4.4" fill="#fff"/>
<rect x="234.36" y="313.49" width="3" height="4.4" fill="#fff"/>
<rect x="234.36" y="323.49" width="3" height="4.4" fill="#fff"/>
<rect x="234.36" y="333.49" width="3" height="4.4" fill="#fff"/>
<rect x="234.36" y="343.49" width="3" height="4.4" fill="#fff"/>
<rect x="237.96" y="258.49" width="4.4" height="4.4" fill="#fff"/>
<rect x="237.96" y="268.49" width="4.4" height="4.4" fill="#fff"/>
<rect x="237.96" y="278.49" width="4.4" height="4.4" fill="#fff"/>
<rect x="237.96" y="288.49" width="4.4" height="4.4" fill="#fff"/>
<rect x="237.96" y="298.49" width="4.4" height="4.4" fill="#fff"/>
<rect x="237.96" y="308.49" width="4.4" height="4.4" fill="#fff"/>
<rect x="237.96" y="318.49" width="4.4" height="4.4" fill="#fff"/>
<rect x="237.96" y="328.49" width="4.4" height="4.4" fill="#fff"/>
<rect x="237.96" y="338.49" width="4.4" height="4.4" fill="#fff"/>
<rect x="237.96" y="348.49" width="4.4" height="1.92" fill="#fff"/>
<rect x="242.96" y="253.49" width="0.69" height="4.4" fill="#fff"/>
<rect x="242.96" y="263.49" width="0.69" height="4.4" fill="#fff"/>
<rect x="242.96" y="273.49" width="0.69" height="4.4" fill="#fff"/>
<rect x="242.96" y="283.49" width="0.69" height="4.4" fill="#fff"/>
<rect x="242.96" y="293.49" width="0.69" height="4.4" fill="#fff"/>
<rect x="242.96" y="303.49" width="0.69" height="4.4" fill="#fff"/>
<rect x="242.96" y="313.49" width="0.69" height="4.4" fill="#fff"/>
<rect x="242.96" y="323.49" width="0.69" height="4.4" fill="#fff"/>
<rect x="242.96" y="333.49" width="0.69" height="4.4" fill="#fff"/>
<rect x="242.96" y="343.49" width="0.69" height="4.4" fill="#fff"/>
<rect x="234.36" y="253.19" width="9.29" height="97.22" fill="none" stroke="#111" stroke-width="1"/>
<rect x="257.58" y="350.41" width="9.29" height="2.8" fill="#fff"/>
<rect x="258.88" y="350.41" width="2.6" height="2.8" fill="#bcbcbc"/>
<rect x="263.88" y="350.41" width="2.6" height="2.8" fill="#bcbcbc"/>
<rect x="257.58" y="350.41" width="9.29" height="2.8" fill="none" stroke="#111" stroke-width="1"/>
<rect x="266.86" y="350.41" width="9.29" height="2.1" fill="#fff"/>
<rect x="266.86" y="350.41" width="9.29" height="2.1" fill="none" stroke="#111" stroke-width="1"/>
<rect x="276.15" y="306.7" width="9.29" height="43.72" fill="#fff"/>
<rect x="280.74" y="308.75" width="1.7" height="1.7" fill="#1e1e1e"/>
<rect x="280.74" y="313.85" width="1.7" height="1.7" fill="#1e1e1e"/>
<rect x="280.74" y="318.95" width="1.7" height="1.7" fill="#1e1e1e"/>
<rect x="280.74" y="324.05" width="1.7" height="1.7" fill="#1e1e1e"/>
<rect x="280.74" y="329.15" width="1.7" height="1.7" fill="#1e1e1e"/>
<rect x="280.74" y="334.25" width="1.7" height="1.7" fill="#1e1e1e"/>
<rect x="280.74" y="339.35" width="1.7" height="1.7" fill="#1e1e1e"/>
<rect x="280.74" y="344.45" width="1.7" height="1.7" fill="#1e1e1e"/>
<rect x="276.15" y="311.4" width="1.1" height="1.5" fill="#444"/>
<rect x="276.15" y="316.5" width="1.1" height="1.5" fill="#444"/>
<rect x="276.15" y="321.6" width="1.1" height="1.5" fill="#444"/>
<rect x="276.15" y="326.7" width="1.1" height="1.5" fill="#444"/>
<rect x="276.15" y="331.8" width="1.1" height="1.5" fill="#444"/>
<rect x="276.15" y="336.9" width="1.1" height="1.5" fill="#444"/>
<rect x="276.15" y="342" width="1.1" height="1.5" fill="#444"/>
<rect x="276.15" y="347.1" width="1.1" height="1.5" fill="#444"/>
<rect x="276.15" y="306.7" width="9.29" height="43.72" fill="none" stroke="#111" stroke-width="1"/>
<rect x="285.44" y="295.85" width="9.29" height="54.56" fill="#111"/>
<rect x="285.44" y="296.15" width="3" height="4.4" fill="#fff"/>
<rect x="285.44" y="306.15" width="3" height="4.4" fill="#fff"/>
<rect x="285.44" y="316.15" width="3" height="4.4" fill="#fff"/>
<rect x="285.44" y="326.15" width="3" height="4.4" fill="#fff"/>
<rect x="285.44" y="336.15" width="3" height="4.4" fill="#fff"/>
<rect x="285.44" y="346.15" width="3" height="4.26" fill="#fff"/>
<rect x="289.04" y="301.15" width="4.4" height="4.4" fill="#fff"/>
<rect x="289.04" y="311.15" width="4.4" height="4.4" fill="#fff"/>
<rect x="289.04" y="321.15" width="4.4" height="4.4" fill="#fff"/>
<rect x="289.04" y="331.15" width="4.4" height="4.4" fill="#fff"/>
<rect x="289.04" y="341.15" width="4.4" height="4.4" fill="#fff"/>
<rect x="294.04" y="296.15" width="0.69" height="4.4" fill="#fff"/>
<rect x="294.04" y="306.15" width="0.69" height="4.4" fill="#fff"/>
<rect x="294.04" y="316.15" width="0.69" height="4.4" fill="#fff"/>
<rect x="294.04" y="326.15" width="0.69" height="4.4" fill="#fff"/>
<rect x="294.04" y="336.15" width="0.69" height="4.4" fill="#fff"/>
<rect x="294.04" y="346.15" width="0.69" height="4.26" fill="#fff"/>
<rect x="285.44" y="295.85" width="9.29" height="54.56" fill="none" stroke="#111" stroke-width="1"/>
<rect x="308.65" y="350.41" width="9.29" height="5.25" fill="#fff"/>
<rect x="309.95" y="350.41" width="2.6" height="5.25" fill="#bcbcbc"/>
<rect x="314.95" y="350.41" width="2.6" height="5.25" fill="#bcbcbc"/>
<rect x="308.65" y="350.41" width="9.29" height="5.25" fill="none" stroke="#111" stroke-width="1"/>
<rect x="317.94" y="253.19" width="9.29" height="97.22" fill="#fff"/>
<rect x="317.94" y="255.79" width="9.29" height="2.4" fill="#141414"/>
<rect x="317.94" y="260.79" width="9.29" height="2.4" fill="#141414"/>
<rect x="317.94" y="265.79" width="9.29" height="2.4" fill="#141414"/>
<rect x="317.94" y="270.79" width="9.29" height="2.4" fill="#141414"/>
<rect x="317.94" y="275.79" width="9.29" height="2.4" fill="#141414"/>
<rect x="317.94" y="280.79" width="9.29" height="2.4" fill="#141414"/>
<rect x="317.94" y="285.79" width="9.29" height="2.4" fill="#141414"/>
<rect x="317.94" y="290.79" width="9.29" height="2.4" fill="#141414"/>
<rect x="317.94" y="295.79" width="9.29" height="2.4" fill="#141414"/>
<rect x="317.94" y="300.79" width="9.29" height="2.4" fill="#141414"/>
<rect x="317.94" y="305.79" width="9.29" height="2.4" fill="#141414"/>
<rect x="317.94" y="310.79" width="9.29" height="2.4" fill="#141414"/>
<rect x="317.94" y="315.79" width="9.29" height="2.4" fill="#141414"/>
<rect x="317.94" y="320.79" width="9.29" height="2.4" fill="#141414"/>
<rect x="317.94" y="325.79" width="9.29" height="2.4" fill="#141414"/>
<rect x="317.94" y="330.79" width="9.29" height="2.4" fill="#141414"/>
<rect x="317.94" y="335.79" width="9.29" height="2.4" fill="#141414"/>
<rect x="317.94" y="340.79" width="9.29" height="2.4" fill="#141414"/>
<rect x="317.94" y="345.79" width="9.29" height="2.4" fill="#141414"/>
<rect x="317.94" y="253.19" width="9.29" height="97.22" fill="none" stroke="#111" stroke-width="1"/>
<rect x="327.23" y="280.12" width="9.29" height="70.29" fill="#fff"/>
<rect x="331.82" y="282.17" width="1.7" height="1.7" fill="#1e1e1e"/>
<rect x="331.82" y="287.27" width="1.7" height="1.7" fill="#1e1e1e"/>
<rect x="331.82" y="292.37" width="1.7" height="1.7" fill="#1e1e1e"/>
<rect x="331.82" y="297.47" width="1.7" height="1.7" fill="#1e1e1e"/>
<rect x="331.82" y="302.57" width="1.7" height="1.7" fill="#1e1e1e"/>
<rect x="331.82" y="307.67" width="1.7" height="1.7" fill="#1e1e1e"/>
<rect x="331.82" y="312.77" width="1.7" height="1.7" fill="#1e1e1e"/>
<rect x="331.82" y="317.87" width="1.7" height="1.7" fill="#1e1e1e"/>
<rect x="331.82" y="322.97" width="1.7" height="1.7" fill="#1e1e1e"/>
<rect x="331.82" y="328.07" width="1.7" height="1.7" fill="#1e1e1e"/>
<rect x="331.82" y="333.17" width="1.7" height="1.7" fill="#1e1e1e"/>
<rect x="331.82" y="338.27" width="1.7" height="1.7" fill="#1e1e1e"/>
<rect x="331.82" y="343.37" width="1.7" height="1.7" fill="#1e1e1e"/>
<rect x="331.82" y="348.47" width="1.7" height="1.7" fill="#1e1e1e"/>
<rect x="327.23" y="284.82" width="1.1" height="1.5" fill="#444"/>
<rect x="327.23" y="289.92" width="1.1" height="1.5" fill="#444"/>
<rect x="327.23" y="295.02" width="1.1" height="1.5" fill="#444"/>
<rect x="327.23" y="300.12" width="1.1" height="1.5" fill="#444"/>
<rect x="327.23" y="305.22" width="1.1" height="1.5" fill="#444"/>
<rect x="327.23" y="310.32" width="1.1" height="1.5" fill="#444"/>
<rect x="327.23" y="315.42" width="1.1" height="1.5" fill="#444"/>
<rect x="327.23" y="320.52" width="1.1" height="1.5" fill="#444"/>
<rect x="327.23" y="325.62" width="1.1" height="1.5" fill="#444"/>
<rect x="327.23" y="330.72" width="1.1" height="1.5" fill="#444"/>
<rect x="327.23" y="335.82" width="1.1" height="1.5" fill="#444"/>
<rect x="327.23" y="340.92" width="1.1" height="1.5" fill="#444"/>
<rect x="327.23" y="346.02" width="1.1" height="1.5" fill="#444"/>
<rect x="327.23" y="280.12" width="9.29" height="70.29" fill="none" stroke="#111" stroke-width="1"/>
<rect x="336.51" y="267.53" width="9.29" height="82.88" fill="#111"/>
<rect x="336.51" y="267.83" width="3" height="4.4" fill="#fff"/>
<rect x="336.51" y="277.83" width="3" height="4.4" fill="#fff"/>
<rect x="336.51" y="287.83" width="3" height="4.4" fill="#fff"/>
<rect x="336.51" y="297.83" width="3" height="4.4" fill="#fff"/>
<rect x="336.51" y="307.83" width="3" height="4.4" fill="#fff"/>
<rect x="336.51" y="317.83" width="3" height="4.4" fill="#fff"/>
<rect x="336.51" y="327.83" width="3" height="4.4" fill="#fff"/>
<rect x="336.51" y="337.83" width="3" height="4.4" fill="#fff"/>
<rect x="336.51" y="347.83" width="3" height="2.58" fill="#fff"/>
<rect x="340.11" y="272.83" width="4.4" height="4.4" fill="#fff"/>
<rect x="340.11" y="282.83" width="4.4" height="4.4" fill="#fff"/>
<rect x="340.11" y="292.83" width="4.4" height="4.4" fill="#fff"/>
<rect x="340.11" y="302.83" width="4.4" height="4.4" fill="#fff"/>
<rect x="340.11" y="312.83" width="4.4" height="4.4" fill="#fff"/>
<rect x="340.11" y="322.83" width="4.4" height="4.4" fill="#fff"/>
<rect x="340.11" y="332.83" width="4.4" height="4.4" fill="#fff"/>
<rect x="340.11" y="342.83" width="4.4" height="4.4" fill="#fff"/>
<rect x="345.11" y="267.83" width="0.69" height="4.4" fill="#fff"/>
<rect x="345.11" y="277.83" width="0.69" height="4.4" fill="#fff"/>
<rect x="345.11" y="287.83" width="0.69" height="4.4" fill="#fff"/>
<rect x="345.11" y="297.83" width="0.69" height="4.4" fill="#fff"/>
<rect x="345.11" y="307.83" width="0.69" height="4.4" fill="#fff"/>
<rect x="345.11" y="317.83" width="0.69" height="4.4" fill="#fff"/>
<rect x="345.11" y="327.83" width="0.69" height="4.4" fill="#fff"/>
<rect x="345.11" y="337.83" width="0.69" height="4.4" fill="#fff"/>
<rect x="345.11" y="347.83" width="0.69" height="2.58" fill="#fff"/>
<rect x="336.51" y="267.53" width="9.29" height="82.88" fill="none" stroke="#111" stroke-width="1"/>
<rect x="359.73" y="350.41" width="9.29" height="4.2" fill="#fff"/>
<rect x="361.03" y="350.41" width="2.6" height="4.2" fill="#bcbcbc"/>
<rect x="366.03" y="350.41" width="2.6" height="4.2" fill="#bcbcbc"/>
<rect x="359.73" y="350.41" width="9.29" height="4.2" fill="none" stroke="#111" stroke-width="1"/>
<rect x="369.02" y="286.41" width="9.29" height="64" fill="#fff"/>
<rect x="369.02" y="289.01" width="9.29" height="2.4" fill="#141414"/>
<rect x="369.02" y="294.01" width="9.29" height="2.4" fill="#141414"/>
<rect x="369.02" y="299.01" width="9.29" height="2.4" fill="#141414"/>
<rect x="369.02" y="304.01" width="9.29" height="2.4" fill="#141414"/>
<rect x="369.02" y="309.01" width="9.29" height="2.4" fill="#141414"/>
<rect x="369.02" y="314.01" width="9.29" height="2.4" fill="#141414"/>
<rect x="369.02" y="319.01" width="9.29" height="2.4" fill="#141414"/>
<rect x="369.02" y="324.01" width="9.29" height="2.4" fill="#141414"/>
<rect x="369.02" y="329.01" width="9.29" height="2.4" fill="#141414"/>
<rect x="369.02" y="334.01" width="9.29" height="2.4" fill="#141414"/>
<rect x="369.02" y="339.01" width="9.29" height="2.4" fill="#141414"/>
<rect x="369.02" y="344.01" width="9.29" height="2.4" fill="#141414"/>
<rect x="369.02" y="349.01" width="9.29" height="1.4" fill="#141414"/>
<rect x="369.02" y="286.41" width="9.29" height="64" fill="none" stroke="#111" stroke-width="1"/>
<rect x="378.31" y="315.79" width="9.29" height="34.62" fill="#fff"/>
<rect x="382.9" y="317.84" width="1.7" height="1.7" fill="#1e1e1e"/>
<rect x="382.9" y="322.94" width="1.7" height="1.7" fill="#1e1e1e"/>
<rect x="382.9" y="328.04" width="1.7" height="1.7" fill="#1e1e1e"/>
<rect x="382.9" y="333.14" width="1.7" height="1.7" fill="#1e1e1e"/>
<rect x="382.9" y="338.24" width="1.7" height="1.7" fill="#1e1e1e"/>
<rect x="382.9" y="343.34" width="1.7" height="1.7" fill="#1e1e1e"/>
<rect x="382.9" y="348.44" width="1.7" height="1.7" fill="#1e1e1e"/>
<rect x="378.31" y="320.49" width="1.1" height="1.5" fill="#444"/>
<rect x="378.31" y="325.59" width="1.1" height="1.5" fill="#444"/>
<rect x="378.31" y="330.69" width="1.1" height="1.5" fill="#444"/>
<rect x="378.31" y="335.79" width="1.1" height="1.5" fill="#444"/>
<rect x="378.31" y="340.89" width="1.1" height="1.5" fill="#444"/>
<rect x="378.31" y="345.99" width="1.1" height="1.5" fill="#444"/>
<rect x="378.31" y="315.79" width="9.29" height="34.62" fill="none" stroke="#111" stroke-width="1"/>
<rect x="387.59" y="303.34" width="9.29" height="47.07" fill="#111"/>
<rect x="387.59" y="303.64" width="3" height="4.4" fill="#fff"/>
<rect x="387.59" y="313.64" width="3" height="4.4" fill="#fff"/>
<rect x="387.59" y="323.64" width="3" height="4.4" fill="#fff"/>
<rect x="387.59" y="333.64" width="3" height="4.4" fill="#fff"/>
<rect x="387.59" y="343.64" width="3" height="4.4" fill="#fff"/>
<rect x="391.19" y="308.64" width="4.4" height="4.4" fill="#fff"/>
<rect x="391.19" y="318.64" width="4.4" height="4.4" fill="#fff"/>
<rect x="391.19" y="328.64" width="4.4" height="4.4" fill="#fff"/>
<rect x="391.19" y="338.64" width="4.4" height="4.4" fill="#fff"/>
<rect x="391.19" y="348.64" width="4.4" height="1.77" fill="#fff"/>
<rect x="396.19" y="303.64" width="0.69" height="4.4" fill="#fff"/>
<rect x="396.19" y="313.64" width="0.69" height="4.4" fill="#fff"/>
<rect x="396.19" y="323.64" width="0.69" height="4.4" fill="#fff"/>
<rect x="396.19" y="333.64" width="0.69" height="4.4" fill="#fff"/>
<rect x="396.19" y="343.64" width="0.69" height="4.4" fill="#fff"/>
<rect x="387.59" y="303.34" width="9.29" height="47.07" fill="none" stroke="#111" stroke-width="1"/>
<rect x="410.81" y="350.41" width="9.29" height="8.04" fill="#fff"/>
<rect x="412.11" y="350.41" width="2.6" height="8.04" fill="#bcbcbc"/>
<rect x="417.11" y="350.41" width="2.6" height="8.04" fill="#bcbcbc"/>
<rect x="410.81" y="350.41" width="9.29" height="8.04" fill="none" stroke="#111" stroke-width="1"/>
<rect x="420.1" y="253.05" width="9.29" height="97.36" fill="#fff"/>
<rect x="420.1" y="255.65" width="9.29" height="2.4" fill="#141414"/>
<rect x="420.1" y="260.65" width="9.29" height="2.4" fill="#141414"/>
<rect x="420.1" y="265.65" width="9.29" height="2.4" fill="#141414"/>
<rect x="420.1" y="270.65" width="9.29" height="2.4" fill="#141414"/>
<rect x="420.1" y="275.65" width="9.29" height="2.4" fill="#141414"/>
<rect x="420.1" y="280.65" width="9.29" height="2.4" fill="#141414"/>
<rect x="420.1" y="285.65" width="9.29" height="2.4" fill="#141414"/>
<rect x="420.1" y="290.65" width="9.29" height="2.4" fill="#141414"/>
<rect x="420.1" y="295.65" width="9.29" height="2.4" fill="#141414"/>
<rect x="420.1" y="300.65" width="9.29" height="2.4" fill="#141414"/>
<rect x="420.1" y="305.65" width="9.29" height="2.4" fill="#141414"/>
<rect x="420.1" y="310.65" width="9.29" height="2.4" fill="#141414"/>
<rect x="420.1" y="315.65" width="9.29" height="2.4" fill="#141414"/>
<rect x="420.1" y="320.65" width="9.29" height="2.4" fill="#141414"/>
<rect x="420.1" y="325.65" width="9.29" height="2.4" fill="#141414"/>
<rect x="420.1" y="330.65" width="9.29" height="2.4" fill="#141414"/>
<rect x="420.1" y="335.65" width="9.29" height="2.4" fill="#141414"/>
<rect x="420.1" y="340.65" width="9.29" height="2.4" fill="#141414"/>
<rect x="420.1" y="345.65" width="9.29" height="2.4" fill="#141414"/>
<rect x="420.1" y="253.05" width="9.29" height="97.36" fill="none" stroke="#111" stroke-width="1"/>
<rect x="429.38" y="294.67" width="9.29" height="55.75" fill="#fff"/>
<rect x="433.98" y="296.72" width="1.7" height="1.7" fill="#1e1e1e"/>
<rect x="433.98" y="301.82" width="1.7" height="1.7" fill="#1e1e1e"/>
<rect x="433.98" y="306.92" width="1.7" height="1.7" fill="#1e1e1e"/>
<rect x="433.98" y="312.02" width="1.7" height="1.7" fill="#1e1e1e"/>
<rect x="433.98" y="317.12" width="1.7" height="1.7" fill="#1e1e1e"/>
<rect x="433.98" y="322.22" width="1.7" height="1.7" fill="#1e1e1e"/>
<rect x="433.98" y="327.32" width="1.7" height="1.7" fill="#1e1e1e"/>
<rect x="433.98" y="332.42" width="1.7" height="1.7" fill="#1e1e1e"/>
<rect x="433.98" y="337.52" width="1.7" height="1.7" fill="#1e1e1e"/>
<rect x="433.98" y="342.62" width="1.7" height="1.7" fill="#1e1e1e"/>
<rect x="433.98" y="347.72" width="1.7" height="1.7" fill="#1e1e1e"/>
<rect x="429.38" y="299.37" width="1.1" height="1.5" fill="#444"/>
<rect x="429.38" y="304.47" width="1.1" height="1.5" fill="#444"/>
<rect x="429.38" y="309.57" width="1.1" height="1.5" fill="#444"/>
<rect x="429.38" y="314.67" width="1.1" height="1.5" fill="#444"/>
<rect x="429.38" y="319.77" width="1.1" height="1.5" fill="#444"/>
<rect x="429.38" y="324.87" width="1.1" height="1.5" fill="#444"/>
<rect x="429.38" y="329.97" width="1.1" height="1.5" fill="#444"/>
<rect x="429.38" y="335.07" width="1.1" height="1.5" fill="#444"/>
<rect x="429.38" y="340.17" width="1.1" height="1.5" fill="#444"/>
<rect x="429.38" y="345.27" width="1.1" height="1.5" fill="#444"/>
<rect x="429.38" y="294.67" width="9.29" height="55.75" fill="none" stroke="#111" stroke-width="1"/>
<rect x="438.67" y="271.23" width="9.29" height="79.18" fill="#111"/>
<rect x="438.67" y="271.53" width="3" height="4.4" fill="#fff"/>
<rect x="438.67" y="281.53" width="3" height="4.4" fill="#fff"/>
<rect x="438.67" y="291.53" width="3" height="4.4" fill="#fff"/>
<rect x="438.67" y="301.53" width="3" height="4.4" fill="#fff"/>
<rect x="438.67" y="311.53" width="3" height="4.4" fill="#fff"/>
<rect x="438.67" y="321.53" width="3" height="4.4" fill="#fff"/>
<rect x="438.67" y="331.53" width="3" height="4.4" fill="#fff"/>
<rect x="438.67" y="341.53" width="3" height="4.4" fill="#fff"/>
<rect x="442.27" y="276.53" width="4.4" height="4.4" fill="#fff"/>
<rect x="442.27" y="286.53" width="4.4" height="4.4" fill="#fff"/>
<rect x="442.27" y="296.53" width="4.4" height="4.4" fill="#fff"/>
<rect x="442.27" y="306.53" width="4.4" height="4.4" fill="#fff"/>
<rect x="442.27" y="316.53" width="4.4" height="4.4" fill="#fff"/>
<rect x="442.27" y="326.53" width="4.4" height="4.4" fill="#fff"/>
<rect x="442.27" y="336.53" width="4.4" height="4.4" fill="#fff"/>
<rect x="442.27" y="346.53" width="4.4" height="3.88" fill="#fff"/>
<rect x="447.27" y="271.53" width="0.69" height="4.4" fill="#fff"/>
<rect x="447.27" y="281.53" width="0.69" height="4.4" fill="#fff"/>
<rect x="447.27" y="291.53" width="0.69" height="4.4" fill="#fff"/>
<rect x="447.27" y="301.53" width="0.69" height="4.4" fill="#fff"/>
<rect x="447.27" y="311.53" width="0.69" height="4.4" fill="#fff"/>
<rect x="447.27" y="321.53" width="0.69" height="4.4" fill="#fff"/>
<rect x="447.27" y="331.53" width="0.69" height="4.4" fill="#fff"/>
<rect x="447.27" y="341.53" width="0.69" height="4.4" fill="#fff"/>
<rect x="438.67" y="271.23" width="9.29" height="79.18" fill="none" stroke="#111" stroke-width="1"/>
<rect x="461.89" y="348.31" width="9.29" height="2.1" fill="#fff"/>
<rect x="463.19" y="348.31" width="2.6" height="2.1" fill="#bcbcbc"/>
<rect x="468.19" y="348.31" width="2.6" height="2.1" fill="#bcbcbc"/>
<rect x="461.89" y="348.31" width="9.29" height="2.1" fill="none" stroke="#111" stroke-width="1"/>
<rect x="471.17" y="343.77" width="9.29" height="6.64" fill="#fff"/>
<rect x="471.17" y="346.37" width="9.29" height="2.4" fill="#141414"/>
<rect x="471.17" y="343.77" width="9.29" height="6.64" fill="none" stroke="#111" stroke-width="1"/>
<rect x="480.46" y="287.11" width="9.29" height="63.3" fill="#fff"/>
<rect x="485.05" y="289.16" width="1.7" height="1.7" fill="#1e1e1e"/>
<rect x="485.05" y="294.26" width="1.7" height="1.7" fill="#1e1e1e"/>
<rect x="485.05" y="299.36" width="1.7" height="1.7" fill="#1e1e1e"/>
<rect x="485.05" y="304.46" width="1.7" height="1.7" fill="#1e1e1e"/>
<rect x="485.05" y="309.56" width="1.7" height="1.7" fill="#1e1e1e"/>
<rect x="485.05" y="314.66" width="1.7" height="1.7" fill="#1e1e1e"/>
<rect x="485.05" y="319.76" width="1.7" height="1.7" fill="#1e1e1e"/>
<rect x="485.05" y="324.86" width="1.7" height="1.7" fill="#1e1e1e"/>
<rect x="485.05" y="329.96" width="1.7" height="1.7" fill="#1e1e1e"/>
<rect x="485.05" y="335.06" width="1.7" height="1.7" fill="#1e1e1e"/>
<rect x="485.05" y="340.16" width="1.7" height="1.7" fill="#1e1e1e"/>
<rect x="485.05" y="345.26" width="1.7" height="1.7" fill="#1e1e1e"/>
<rect x="480.46" y="291.81" width="1.1" height="1.5" fill="#444"/>
<rect x="480.46" y="296.91" width="1.1" height="1.5" fill="#444"/>
<rect x="480.46" y="302.01" width="1.1" height="1.5" fill="#444"/>
<rect x="480.46" y="307.11" width="1.1" height="1.5" fill="#444"/>
<rect x="480.46" y="312.21" width="1.1" height="1.5" fill="#444"/>
<rect x="480.46" y="317.31" width="1.1" height="1.5" fill="#444"/>
<rect x="480.46" y="322.41" width="1.1" height="1.5" fill="#444"/>
<rect x="480.46" y="327.51" width="1.1" height="1.5" fill="#444"/>
<rect x="480.46" y="332.61" width="1.1" height="1.5" fill="#444"/>
<rect x="480.46" y="337.71" width="1.1" height="1.5" fill="#444"/>
<rect x="480.46" y="342.81" width="1.1" height="1.5" fill="#444"/>
<rect x="480.46" y="347.91" width="1.1" height="1.5" fill="#444"/>
<rect x="480.46" y="287.11" width="9.29" height="63.3" fill="none" stroke="#111" stroke-width="1"/>
<rect x="489.75" y="312.29" width="9.29" height="38.12" fill="#111"/>
<rect x="489.75" y="312.59" width="3" height="4.4" fill="#fff"/>
<rect x="489.75" y="322.59" width="3" height="4.4" fill="#fff"/>
<rect x="489.75" y="332.59" width="3" height="4.4" fill="#fff"/>
<rect x="489.75" y="342.59" width="3" height="4.4" fill="#fff"/>
<rect x="493.35" y="317.59" width="4.4" height="4.4" fill="#fff"/>
<rect x="493.35" y="327.59" width="4.4" height="4.4" fill="#fff"/>
<rect x="493.35" y="337.59" width="4.4" height="4.4" fill="#fff"/>
<rect x="493.35" y="347.59" width="4.4" height="2.82" fill="#fff"/>
<rect x="498.35" y="312.59" width="0.69" height="4.4" fill="#fff"/>
<rect x="498.35" y="322.59" width="0.69" height="4.4" fill="#fff"/>
<rect x="498.35" y="332.59" width="0.69" height="4.4" fill="#fff"/>
<rect x="498.35" y="342.59" width="0.69" height="4.4" fill="#fff"/>
<rect x="489.75" y="312.29" width="9.29" height="38.12" fill="none" stroke="#111" stroke-width="1"/>
<line x1="46.3" y1="350.41" x2="506" y2="350.41" stroke="#4a4a4a" stroke-width="1.1"/>
<line x1="97.38" y1="350.41" x2="97.38" y2="352.91" stroke="#333" stroke-width="0.9"/>
<line x1="148.46" y1="350.41" x2="148.46" y2="352.91" stroke="#333" stroke-width="0.9"/>
<line x1="199.53" y1="350.41" x2="199.53" y2="352.91" stroke="#333" stroke-width="0.9"/>
<line x1="250.61" y1="350.41" x2="250.61" y2="352.91" stroke="#333" stroke-width="0.9"/>
<line x1="301.69" y1="350.41" x2="301.69" y2="352.91" stroke="#333" stroke-width="0.9"/>
<line x1="352.77" y1="350.41" x2="352.77" y2="352.91" stroke="#333" stroke-width="0.9"/>
<line x1="403.84" y1="350.41" x2="403.84" y2="352.91" stroke="#333" stroke-width="0.9"/>
<line x1="454.92" y1="350.41" x2="454.92" y2="352.91" stroke="#333" stroke-width="0.9"/>
<line x1="506" y1="350.41" x2="506" y2="352.91" stroke="#333" stroke-width="0.9"/>
<line x1="46.3" y1="237.9" x2="46.3" y2="365" stroke="#505050" stroke-width="1"/>
<line x1="506" y1="237.9" x2="506" y2="365" stroke="#6a6a6a" stroke-width="1.1"/>
<line x1="46.3" y1="364.4" x2="506" y2="364.4" stroke="#333" stroke-width="1.3"/>
<line x1="43.7" y1="364.4" x2="46.3" y2="364.4" stroke="#333" stroke-width="1"/>
<text x="43.8" y="368.4" font-family='"Liberation Serif", serif' font-size="7.6" text-anchor="end" fill="#111" stroke="#111" stroke-width="0.1">-200</text>
<line x1="43.7" y1="350.41" x2="46.3" y2="350.41" stroke="#333" stroke-width="1"/>
<text x="43.8" y="354.41" font-family='"Liberation Serif", serif' font-size="7.6" text-anchor="end" fill="#111" stroke="#111" stroke-width="0.1">0</text>
<line x1="43.7" y1="336.42" x2="46.3" y2="336.42" stroke="#333" stroke-width="1"/>
<text x="43.8" y="340.42" font-family='"Liberation Serif", serif' font-size="7.6" text-anchor="end" fill="#111" stroke="#111" stroke-width="0.1">200</text>
<line x1="43.7" y1="322.43" x2="46.3" y2="322.43" stroke="#333" stroke-width="1"/>
<text x="43.8" y="326.43" font-family='"Liberation Serif", serif' font-size="7.6" text-anchor="end" fill="#111" stroke="#111" stroke-width="0.1">400</text>
<line x1="43.7" y1="308.44" x2="46.3" y2="308.44" stroke="#333" stroke-width="1"/>
<text x="43.8" y="312.44" font-family='"Liberation Serif", serif' font-size="7.6" text-anchor="end" fill="#111" stroke="#111" stroke-width="0.1">600</text>
<line x1="43.7" y1="294.46" x2="46.3" y2="294.46" stroke="#333" stroke-width="1"/>
<text x="43.8" y="298.46" font-family='"Liberation Serif", serif' font-size="7.6" text-anchor="end" fill="#111" stroke="#111" stroke-width="0.1">800</text>
<line x1="43.7" y1="280.47" x2="46.3" y2="280.47" stroke="#333" stroke-width="1"/>
<text x="43.8" y="284.47" font-family='"Liberation Serif", serif' font-size="7.6" text-anchor="end" fill="#111" stroke="#111" stroke-width="0.1">1000</text>
<line x1="43.7" y1="266.48" x2="46.3" y2="266.48" stroke="#333" stroke-width="1"/>
<text x="43.8" y="270.48" font-family='"Liberation Serif", serif' font-size="7.6" text-anchor="end" fill="#111" stroke="#111" stroke-width="0.1">1200</text>
<line x1="43.7" y1="252.49" x2="46.3" y2="252.49" stroke="#333" stroke-width="1"/>
<text x="43.8" y="256.49" font-family='"Liberation Serif", serif' font-size="7.6" text-anchor="end" fill="#111" stroke="#111" stroke-width="0.1">1400</text>
<line x1="43.7" y1="238.5" x2="46.3" y2="238.5" stroke="#333" stroke-width="1"/>
<text x="43.8" y="242.5" font-family='"Liberation Serif", serif' font-size="7.6" text-anchor="end" fill="#111" stroke="#111" stroke-width="0.1">1600</text>
<text transform="translate(77.14,373.5) rotate(-90)" font-family='"Liberation Serif", serif' font-weight="bold" font-size="8.0" text-anchor="end" fill="#000" stroke="#000" stroke-width="0.15">chTNT-3</text>
<text transform="translate(128.22,373.5) rotate(-90)" font-family='"Liberation Serif", serif' font-weight="bold" font-size="8.0" text-anchor="end" fill="#000" stroke="#000" stroke-width="0.15">chTNT-3/IL-2</text>
<text transform="translate(179.29,373.5) rotate(-90)" font-family='"Liberation Serif", serif' font-weight="bold" font-size="8.0" text-anchor="end" fill="#000" stroke="#000" stroke-width="0.15">chTNT-3/R38G</text>
<text transform="translate(230.37,373.5) rotate(-90)" font-family='"Liberation Serif", serif' font-weight="bold" font-size="8.0" text-anchor="end" fill="#000" stroke="#000" stroke-width="0.15">chTNT-3/R38W</text>
<text transform="translate(281.45,373.5) rotate(-90)" font-family='"Liberation Serif", serif' font-weight="bold" font-size="8.0" text-anchor="end" fill="#000" stroke="#000" stroke-width="0.15">chTNT-3/D20K</text>
<text transform="translate(332.53,373.5) rotate(-90)" font-family='"Liberation Serif", serif' font-weight="bold" font-size="8.0" text-anchor="end" fill="#000" stroke="#000" stroke-width="0.15">chTNT-3/H55Y</text>
<text transform="translate(383.61,373.5) rotate(-90)" font-family='"Liberation Serif", serif' font-weight="bold" font-size="8.0" text-anchor="end" fill="#000" stroke="#000" stroke-width="0.15">chTNT-3/M39V</text>
<text transform="translate(434.68,373.5) rotate(-90)" font-family='"Liberation Serif", serif' font-weight="bold" font-size="8.0" text-anchor="end" fill="#000" stroke="#000" stroke-width="0.15">chTNT-3/M39L</text>
<text transform="translate(485.76,373.5) rotate(-90)" font-family='"Liberation Serif", serif' font-weight="bold" font-size="8.0" text-anchor="end" fill="#000" stroke="#000" stroke-width="0.15">chTNT-3/F42K</text>
<text transform="translate(9,286.1) rotate(-90)" font-family='"Liberation Serif", serif' font-size="11.9" text-anchor="middle" fill="#111" stroke="#111" stroke-width="0.08">Human IFNγ</text>
<text transform="translate(23.4,284.5) rotate(-90)" font-family='"Liberation Serif", serif' font-size="12.6" text-anchor="middle" fill="#111" stroke="#111" stroke-width="0.08">(pg/mL)</text>
<line x1="52.2" y1="537.61" x2="517.9" y2="537.61" stroke="#a0a0a0" stroke-width="1.15"/>
<line x1="52.2" y1="521.97" x2="517.9" y2="521.97" stroke="#a0a0a0" stroke-width="1.15"/>
<line x1="52.2" y1="506.33" x2="517.9" y2="506.33" stroke="#a0a0a0" stroke-width="1.15"/>
<line x1="52.2" y1="490.69" x2="517.9" y2="490.69" stroke="#a0a0a0" stroke-width="1.15"/>
<line x1="52.2" y1="475.04" x2="517.9" y2="475.04" stroke="#a0a0a0" stroke-width="1.15"/>
<line x1="52.2" y1="459.4" x2="517.9" y2="459.4" stroke="#a0a0a0" stroke-width="1.15"/>
<line x1="52.2" y1="459.4" x2="517.9" y2="459.4" stroke="#404040" stroke-width="1.1"/>
<rect x="59.26" y="553.26" width="9.42" height="2.03" fill="#fff"/>
<rect x="60.56" y="553.26" width="2.6" height="2.03" fill="#bcbcbc"/>
<rect x="65.56" y="553.26" width="2.6" height="2.03" fill="#bcbcbc"/>
<rect x="59.26" y="553.26" width="9.42" height="2.03" fill="none" stroke="#111" stroke-width="1"/>
<rect x="68.68" y="553.26" width="9.42" height="2.03" fill="#fff"/>
<rect x="68.68" y="553.26" width="9.42" height="2.03" fill="none" stroke="#111" stroke-width="1"/>
<rect x="78.1" y="553.26" width="9.42" height="2.03" fill="#fff"/>
<rect x="78.1" y="553.26" width="9.42" height="2.03" fill="none" stroke="#111" stroke-width="1"/>
<rect x="87.52" y="553.26" width="9.42" height="2.03" fill="#111"/>
<rect x="87.52" y="553.56" width="3" height="1.73" fill="#fff"/>
<rect x="96.12" y="553.56" width="0.82" height="1.73" fill="#fff"/>
<rect x="87.52" y="553.26" width="9.42" height="2.03" fill="none" stroke="#111" stroke-width="1"/>
<rect x="111.06" y="553.07" width="9.42" height="0.19" fill="#fff"/>
<rect x="112.36" y="553.07" width="2.6" height="0.19" fill="#bcbcbc"/>
<rect x="117.36" y="553.07" width="2.6" height="0.19" fill="#bcbcbc"/>
<rect x="111.06" y="553.07" width="9.42" height="0.19" fill="none" stroke="#111" stroke-width="1"/>
<rect x="120.48" y="528.23" width="9.42" height="25.03" fill="#fff"/>
<rect x="120.48" y="530.83" width="9.42" height="2.4" fill="#141414"/>
<rect x="120.48" y="535.83" width="9.42" height="2.4" fill="#141414"/>
<rect x="120.48" y="540.83" width="9.42" height="2.4" fill="#141414"/>
<rect x="120.48" y="545.83" width="9.42" height="2.4" fill="#141414"/>
<rect x="120.48" y="550.83" width="9.42" height="2.4" fill="#141414"/>
<rect x="120.48" y="528.23" width="9.42" height="25.03" fill="none" stroke="#111" stroke-width="1"/>
<rect x="129.9" y="496.32" width="9.42" height="56.94" fill="#fff"/>
<rect x="134.56" y="498.37" width="1.7" height="1.7" fill="#1e1e1e"/>
<rect x="134.56" y="503.47" width="1.7" height="1.7" fill="#1e1e1e"/>
<rect x="134.56" y="508.57" width="1.7" height="1.7" fill="#1e1e1e"/>
<rect x="134.56" y="513.67" width="1.7" height="1.7" fill="#1e1e1e"/>
<rect x="134.56" y="518.77" width="1.7" height="1.7" fill="#1e1e1e"/>
<rect x="134.56" y="523.87" width="1.7" height="1.7" fill="#1e1e1e"/>
<rect x="134.56" y="528.97" width="1.7" height="1.7" fill="#1e1e1e"/>
<rect x="134.56" y="534.07" width="1.7" height="1.7" fill="#1e1e1e"/>
<rect x="134.56" y="539.17" width="1.7" height="1.7" fill="#1e1e1e"/>
<rect x="134.56" y="544.27" width="1.7" height="1.7" fill="#1e1e1e"/>
<rect x="134.56" y="549.37" width="1.7" height="1.7" fill="#1e1e1e"/>
<rect x="129.9" y="501.02" width="1.1" height="1.5" fill="#444"/>
<rect x="129.9" y="506.12" width="1.1" height="1.5" fill="#444"/>
<rect x="129.9" y="511.22" width="1.1" height="1.5" fill="#444"/>
<rect x="129.9" y="516.32" width="1.1" height="1.5" fill="#444"/>
<rect x="129.9" y="521.42" width="1.1" height="1.5" fill="#444"/>
<rect x="129.9" y="526.52" width="1.1" height="1.5" fill="#444"/>
<rect x="129.9" y="531.62" width="1.1" height="1.5" fill="#444"/>
<rect x="129.9" y="536.72" width="1.1" height="1.5" fill="#444"/>
<rect x="129.9" y="541.82" width="1.1" height="1.5" fill="#444"/>
<rect x="129.9" y="546.92" width="1.1" height="1.5" fill="#444"/>
<rect x="129.9" y="496.32" width="9.42" height="56.94" fill="none" stroke="#111" stroke-width="1"/>
<rect x="139.32" y="504.14" width="9.42" height="49.12" fill="#111"/>
<rect x="139.32" y="504.44" width="3" height="4.4" fill="#fff"/>
<rect x="139.32" y="514.44" width="3" height="4.4" fill="#fff"/>
<rect x="139.32" y="524.44" width="3" height="4.4" fill="#fff"/>
<rect x="139.32" y="534.44" width="3" height="4.4" fill="#fff"/>
<rect x="139.32" y="544.44" width="3" height="4.4" fill="#fff"/>
<rect x="142.92" y="509.44" width="4.4" height="4.4" fill="#fff"/>
<rect x="142.92" y="519.44" width="4.4" height="4.4" fill="#fff"/>
<rect x="142.92" y="529.44" width="4.4" height="4.4" fill="#fff"/>
<rect x="142.92" y="539.44" width="4.4" height="4.4" fill="#fff"/>
<rect x="142.92" y="549.44" width="4.4" height="3.82" fill="#fff"/>
<rect x="147.92" y="504.44" width="0.82" height="4.4" fill="#fff"/>
<rect x="147.92" y="514.44" width="0.82" height="4.4" fill="#fff"/>
<rect x="147.92" y="524.44" width="0.82" height="4.4" fill="#fff"/>
<rect x="147.92" y="534.44" width="0.82" height="4.4" fill="#fff"/>
<rect x="147.92" y="544.44" width="0.82" height="4.4" fill="#fff"/>
<rect x="139.32" y="504.14" width="9.42" height="49.12" fill="none" stroke="#111" stroke-width="1"/>
<rect x="162.86" y="553.07" width="9.42" height="0.19" fill="#fff"/>
<rect x="164.16" y="553.07" width="2.6" height="0.19" fill="#bcbcbc"/>
<rect x="169.16" y="553.07" width="2.6" height="0.19" fill="#bcbcbc"/>
<rect x="162.86" y="553.07" width="9.42" height="0.19" fill="none" stroke="#111" stroke-width="1"/>
<rect x="172.28" y="541.37" width="9.42" height="11.89" fill="#fff"/>
<rect x="172.28" y="543.97" width="9.42" height="2.4" fill="#141414"/>
<rect x="172.28" y="548.97" width="9.42" height="2.4" fill="#141414"/>
<rect x="172.28" y="541.37" width="9.42" height="11.89" fill="none" stroke="#111" stroke-width="1"/>
<rect x="181.7" y="516.65" width="9.42" height="36.6" fill="#fff"/>
<rect x="186.36" y="518.7" width="1.7" height="1.7" fill="#1e1e1e"/>
<rect x="186.36" y="523.8" width="1.7" height="1.7" fill="#1e1e1e"/>
<rect x="186.36" y="528.9" width="1.7" height="1.7" fill="#1e1e1e"/>
<rect x="186.36" y="534" width="1.7" height="1.7" fill="#1e1e1e"/>
<rect x="186.36" y="539.1" width="1.7" height="1.7" fill="#1e1e1e"/>
<rect x="186.36" y="544.2" width="1.7" height="1.7" fill="#1e1e1e"/>
<rect x="186.36" y="549.3" width="1.7" height="1.7" fill="#1e1e1e"/>
<rect x="181.7" y="521.35" width="1.1" height="1.5" fill="#444"/>
<rect x="181.7" y="526.45" width="1.1" height="1.5" fill="#444"/>
<rect x="181.7" y="531.55" width="1.1" height="1.5" fill="#444"/>
<rect x="181.7" y="536.65" width="1.1" height="1.5" fill="#444"/>
<rect x="181.7" y="541.75" width="1.1" height="1.5" fill="#444"/>
<rect x="181.7" y="546.85" width="1.1" height="1.5" fill="#444"/>
<rect x="181.7" y="516.65" width="9.42" height="36.6" fill="none" stroke="#111" stroke-width="1"/>
<rect x="191.12" y="518.22" width="9.42" height="35.04" fill="#111"/>
<rect x="191.12" y="518.52" width="3" height="4.4" fill="#fff"/>
<rect x="191.12" y="528.52" width="3" height="4.4" fill="#fff"/>
<rect x="191.12" y="538.52" width="3" height="4.4" fill="#fff"/>
<rect x="191.12" y="548.52" width="3" height="4.4" fill="#fff"/>
<rect x="194.72" y="523.52" width="4.4" height="4.4" fill="#fff"/>
<rect x="194.72" y="533.52" width="4.4" height="4.4" fill="#fff"/>
<rect x="194.72" y="543.52" width="4.4" height="4.4" fill="#fff"/>
<rect x="199.72" y="518.52" width="0.82" height="4.4" fill="#fff"/>
<rect x="199.72" y="528.52" width="0.82" height="4.4" fill="#fff"/>
<rect x="199.72" y="538.52" width="0.82" height="4.4" fill="#fff"/>
<rect x="199.72" y="548.52" width="0.82" height="4.4" fill="#fff"/>
<rect x="191.12" y="518.22" width="9.42" height="35.04" fill="none" stroke="#111" stroke-width="1"/>
<rect x="214.66" y="552.94" width="9.42" height="0.31" fill="#fff"/>
<rect x="215.96" y="552.94" width="2.6" height="0.31" fill="#bcbcbc"/>
<rect x="220.96" y="552.94" width="2.6" height="0.31" fill="#bcbcbc"/>
<rect x="214.66" y="552.94" width="9.42" height="0.31" fill="none" stroke="#111" stroke-width="1"/>
<rect x="224.08" y="553.07" width="9.42" height="0.19" fill="#fff"/>
<rect x="224.08" y="553.07" width="9.42" height="0.19" fill="none" stroke="#111" stroke-width="1"/>
<rect x="233.5" y="536.05" width="9.42" height="17.21" fill="#fff"/>
<rect x="238.16" y="538.1" width="1.7" height="1.7" fill="#1e1e1e"/>
<rect x="238.16" y="543.2" width="1.7" height="1.7" fill="#1e1e1e"/>
<rect x="238.16" y="548.3" width="1.7" height="1.7" fill="#1e1e1e"/>
<rect x="233.5" y="540.75" width="1.1" height="1.5" fill="#444"/>
<rect x="233.5" y="545.85" width="1.1" height="1.5" fill="#444"/>
<rect x="233.5" y="550.95" width="1.1" height="1.5" fill="#444"/>
<rect x="233.5" y="536.05" width="9.42" height="17.21" fill="none" stroke="#111" stroke-width="1"/>
<rect x="242.92" y="537.93" width="9.42" height="15.33" fill="#111"/>
<rect x="242.92" y="538.23" width="3" height="4.4" fill="#fff"/>
<rect x="242.92" y="548.23" width="3" height="4.4" fill="#fff"/>
<rect x="246.52" y="543.23" width="4.4" height="4.4" fill="#fff"/>
<rect x="246.52" y="553.23" width="4.4" height="0.03" fill="#fff"/>
<rect x="251.52" y="538.23" width="0.82" height="4.4" fill="#fff"/>
<rect x="251.52" y="548.23" width="0.82" height="4.4" fill="#fff"/>
<rect x="242.92" y="537.93" width="9.42" height="15.33" fill="none" stroke="#111" stroke-width="1"/>
<rect x="266.46" y="553.26" width="9.42" height="0.31" fill="#fff"/>
<rect x="267.76" y="553.26" width="2.6" height="0.31" fill="#bcbcbc"/>
<rect x="272.76" y="553.26" width="2.6" height="0.31" fill="#bcbcbc"/>
<rect x="266.46" y="553.26" width="9.42" height="0.31" fill="none" stroke="#111" stroke-width="1"/>
<rect x="275.88" y="553.26" width="9.42" height="0.31" fill="#fff"/>
<rect x="275.88" y="553.26" width="9.42" height="0.31" fill="none" stroke="#111" stroke-width="1"/>
<rect x="285.3" y="549.5" width="9.42" height="3.75" fill="#fff"/>
<rect x="289.96" y="551.55" width="1.7" height="1.7" fill="#1e1e1e"/>
<rect x="285.3" y="549.5" width="9.42" height="3.75" fill="none" stroke="#111" stroke-width="1"/>
<rect x="294.72" y="539.8" width="9.42" height="13.45" fill="#111"/>
<rect x="294.72" y="540.1" width="3" height="4.4" fill="#fff"/>
<rect x="294.72" y="550.1" width="3" height="3.15" fill="#fff"/>
<rect x="298.32" y="545.1" width="4.4" height="4.4" fill="#fff"/>
<rect x="303.32" y="540.1" width="0.82" height="4.4" fill="#fff"/>
<rect x="303.32" y="550.1" width="0.82" height="3.15" fill="#fff"/>
<rect x="294.72" y="539.8" width="9.42" height="13.45" fill="none" stroke="#111" stroke-width="1"/>
<rect x="318.26" y="553.07" width="9.42" height="0.19" fill="#fff"/>
<rect x="319.56" y="553.07" width="2.6" height="0.19" fill="#bcbcbc"/>
<rect x="324.56" y="553.07" width="2.6" height="0.19" fill="#bcbcbc"/>
<rect x="318.26" y="553.07" width="9.42" height="0.19" fill="none" stroke="#111" stroke-width="1"/>
<rect x="327.68" y="550.75" width="9.42" height="2.5" fill="#fff"/>
<rect x="327.68" y="550.75" width="9.42" height="2.5" fill="none" stroke="#111" stroke-width="1"/>
<rect x="337.1" y="495.07" width="9.42" height="58.19" fill="#fff"/>
<rect x="341.76" y="497.12" width="1.7" height="1.7" fill="#1e1e1e"/>
<rect x="341.76" y="502.22" width="1.7" height="1.7" fill="#1e1e1e"/>
<rect x="341.76" y="507.32" width="1.7" height="1.7" fill="#1e1e1e"/>
<rect x="341.76" y="512.42" width="1.7" height="1.7" fill="#1e1e1e"/>
<rect x="341.76" y="517.52" width="1.7" height="1.7" fill="#1e1e1e"/>
<rect x="341.76" y="522.62" width="1.7" height="1.7" fill="#1e1e1e"/>
<rect x="341.76" y="527.72" width="1.7" height="1.7" fill="#1e1e1e"/>
<rect x="341.76" y="532.82" width="1.7" height="1.7" fill="#1e1e1e"/>
<rect x="341.76" y="537.92" width="1.7" height="1.7" fill="#1e1e1e"/>
<rect x="341.76" y="543.02" width="1.7" height="1.7" fill="#1e1e1e"/>
<rect x="341.76" y="548.12" width="1.7" height="1.7" fill="#1e1e1e"/>
<rect x="337.1" y="499.77" width="1.1" height="1.5" fill="#444"/>
<rect x="337.1" y="504.87" width="1.1" height="1.5" fill="#444"/>
<rect x="337.1" y="509.97" width="1.1" height="1.5" fill="#444"/>
<rect x="337.1" y="515.07" width="1.1" height="1.5" fill="#444"/>
<rect x="337.1" y="520.17" width="1.1" height="1.5" fill="#444"/>
<rect x="337.1" y="525.27" width="1.1" height="1.5" fill="#444"/>
<rect x="337.1" y="530.37" width="1.1" height="1.5" fill="#444"/>
<rect x="337.1" y="535.47" width="1.1" height="1.5" fill="#444"/>
<rect x="337.1" y="540.57" width="1.1" height="1.5" fill="#444"/>
<rect x="337.1" y="545.67" width="1.1" height="1.5" fill="#444"/>
<rect x="337.1" y="550.77" width="1.1" height="1.5" fill="#444"/>
<rect x="337.1" y="495.07" width="9.42" height="58.19" fill="none" stroke="#111" stroke-width="1"/>
<rect x="346.52" y="472.23" width="9.42" height="81.03" fill="#111"/>
<rect x="346.52" y="472.53" width="3" height="4.4" fill="#fff"/>
<rect x="346.52" y="482.53" width="3" height="4.4" fill="#fff"/>
<rect x="346.52" y="492.53" width="3" height="4.4" fill="#fff"/>
<rect x="346.52" y="502.53" width="3" height="4.4" fill="#fff"/>
<rect x="346.52" y="512.53" width="3" height="4.4" fill="#fff"/>
<rect x="346.52" y="522.53" width="3" height="4.4" fill="#fff"/>
<rect x="346.52" y="532.53" width="3" height="4.4" fill="#fff"/>
<rect x="346.52" y="542.53" width="3" height="4.4" fill="#fff"/>
<rect x="346.52" y="552.53" width="3" height="0.73" fill="#fff"/>
<rect x="350.12" y="477.53" width="4.4" height="4.4" fill="#fff"/>
<rect x="350.12" y="487.53" width="4.4" height="4.4" fill="#fff"/>
<rect x="350.12" y="497.53" width="4.4" height="4.4" fill="#fff"/>
<rect x="350.12" y="507.53" width="4.4" height="4.4" fill="#fff"/>
<rect x="350.12" y="517.53" width="4.4" height="4.4" fill="#fff"/>
<rect x="350.12" y="527.53" width="4.4" height="4.4" fill="#fff"/>
<rect x="350.12" y="537.53" width="4.4" height="4.4" fill="#fff"/>
<rect x="350.12" y="547.53" width="4.4" height="4.4" fill="#fff"/>
<rect x="355.12" y="472.53" width="0.82" height="4.4" fill="#fff"/>
<rect x="355.12" y="482.53" width="0.82" height="4.4" fill="#fff"/>
<rect x="355.12" y="492.53" width="0.82" height="4.4" fill="#fff"/>
<rect x="355.12" y="502.53" width="0.82" height="4.4" fill="#fff"/>
<rect x="355.12" y="512.53" width="0.82" height="4.4" fill="#fff"/>
<rect x="355.12" y="522.53" width="0.82" height="4.4" fill="#fff"/>
<rect x="355.12" y="532.53" width="0.82" height="4.4" fill="#fff"/>
<rect x="355.12" y="542.53" width="0.82" height="4.4" fill="#fff"/>
<rect x="355.12" y="552.53" width="0.82" height="0.73" fill="#fff"/>
<rect x="346.52" y="472.23" width="9.42" height="81.03" fill="none" stroke="#111" stroke-width="1"/>
<rect x="370.06" y="553.07" width="9.42" height="0.19" fill="#fff"/>
<rect x="371.36" y="553.07" width="2.6" height="0.19" fill="#bcbcbc"/>
<rect x="376.36" y="553.07" width="2.6" height="0.19" fill="#bcbcbc"/>
<rect x="370.06" y="553.07" width="9.42" height="0.19" fill="none" stroke="#111" stroke-width="1"/>
<rect x="379.48" y="540.74" width="9.42" height="12.51" fill="#fff"/>
<rect x="379.48" y="543.34" width="9.42" height="2.4" fill="#141414"/>
<rect x="379.48" y="548.34" width="9.42" height="2.4" fill="#141414"/>
<rect x="379.48" y="540.74" width="9.42" height="12.51" fill="none" stroke="#111" stroke-width="1"/>
<rect x="388.9" y="491.31" width="9.42" height="61.95" fill="#fff"/>
<rect x="393.56" y="493.36" width="1.7" height="1.7" fill="#1e1e1e"/>
<rect x="393.56" y="498.46" width="1.7" height="1.7" fill="#1e1e1e"/>
<rect x="393.56" y="503.56" width="1.7" height="1.7" fill="#1e1e1e"/>
<rect x="393.56" y="508.66" width="1.7" height="1.7" fill="#1e1e1e"/>
<rect x="393.56" y="513.76" width="1.7" height="1.7" fill="#1e1e1e"/>
<rect x="393.56" y="518.86" width="1.7" height="1.7" fill="#1e1e1e"/>
<rect x="393.56" y="523.96" width="1.7" height="1.7" fill="#1e1e1e"/>
<rect x="393.56" y="529.06" width="1.7" height="1.7" fill="#1e1e1e"/>
<rect x="393.56" y="534.16" width="1.7" height="1.7" fill="#1e1e1e"/>
<rect x="393.56" y="539.26" width="1.7" height="1.7" fill="#1e1e1e"/>
<rect x="393.56" y="544.36" width="1.7" height="1.7" fill="#1e1e1e"/>
<rect x="393.56" y="549.46" width="1.7" height="1.7" fill="#1e1e1e"/>
<rect x="388.9" y="496.01" width="1.1" height="1.5" fill="#444"/>
<rect x="388.9" y="501.11" width="1.1" height="1.5" fill="#444"/>
<rect x="388.9" y="506.21" width="1.1" height="1.5" fill="#444"/>
<rect x="388.9" y="511.31" width="1.1" height="1.5" fill="#444"/>
<rect x="388.9" y="516.41" width="1.1" height="1.5" fill="#444"/>
<rect x="388.9" y="521.51" width="1.1" height="1.5" fill="#444"/>
<rect x="388.9" y="526.61" width="1.1" height="1.5" fill="#444"/>
<rect x="388.9" y="531.71" width="1.1" height="1.5" fill="#444"/>
<rect x="388.9" y="536.81" width="1.1" height="1.5" fill="#444"/>
<rect x="388.9" y="541.91" width="1.1" height="1.5" fill="#444"/>
<rect x="388.9" y="547.01" width="1.1" height="1.5" fill="#444"/>
<rect x="388.9" y="491.31" width="9.42" height="61.95" fill="none" stroke="#111" stroke-width="1"/>
<rect x="398.32" y="508.52" width="9.42" height="44.74" fill="#111"/>
<rect x="398.32" y="508.82" width="3" height="4.4" fill="#fff"/>
<rect x="398.32" y="518.82" width="3" height="4.4" fill="#fff"/>
<rect x="398.32" y="528.82" width="3" height="4.4" fill="#fff"/>
<rect x="398.32" y="538.82" width="3" height="4.4" fill="#fff"/>
<rect x="398.32" y="548.82" width="3" height="4.4" fill="#fff"/>
<rect x="401.92" y="513.82" width="4.4" height="4.4" fill="#fff"/>
<rect x="401.92" y="523.82" width="4.4" height="4.4" fill="#fff"/>
<rect x="401.92" y="533.82" width="4.4" height="4.4" fill="#fff"/>
<rect x="401.92" y="543.82" width="4.4" height="4.4" fill="#fff"/>
<rect x="406.92" y="508.82" width="0.82" height="4.4" fill="#fff"/>
<rect x="406.92" y="518.82" width="0.82" height="4.4" fill="#fff"/>
<rect x="406.92" y="528.82" width="0.82" height="4.4" fill="#fff"/>
<rect x="406.92" y="538.82" width="0.82" height="4.4" fill="#fff"/>
<rect x="406.92" y="548.82" width="0.82" height="4.4" fill="#fff"/>
<rect x="398.32" y="508.52" width="9.42" height="44.74" fill="none" stroke="#111" stroke-width="1"/>
<rect x="421.86" y="553.26" width="9.42" height="0.31" fill="#fff"/>
<rect x="423.16" y="553.26" width="2.6" height="0.31" fill="#bcbcbc"/>
<rect x="428.16" y="553.26" width="2.6" height="0.31" fill="#bcbcbc"/>
<rect x="421.86" y="553.26" width="9.42" height="0.31" fill="none" stroke="#111" stroke-width="1"/>
<rect x="431.28" y="547" width="9.42" height="6.26" fill="#fff"/>
<rect x="431.28" y="549.6" width="9.42" height="2.4" fill="#141414"/>
<rect x="431.28" y="547" width="9.42" height="6.26" fill="none" stroke="#111" stroke-width="1"/>
<rect x="440.7" y="506.95" width="9.42" height="46.3" fill="#fff"/>
<rect x="445.36" y="509" width="1.7" height="1.7" fill="#1e1e1e"/>
<rect x="445.36" y="514.1" width="1.7" height="1.7" fill="#1e1e1e"/>
<rect x="445.36" y="519.2" width="1.7" height="1.7" fill="#1e1e1e"/>
<rect x="445.36" y="524.3" width="1.7" height="1.7" fill="#1e1e1e"/>
<rect x="445.36" y="529.4" width="1.7" height="1.7" fill="#1e1e1e"/>
<rect x="445.36" y="534.5" width="1.7" height="1.7" fill="#1e1e1e"/>
<rect x="445.36" y="539.6" width="1.7" height="1.7" fill="#1e1e1e"/>
<rect x="445.36" y="544.7" width="1.7" height="1.7" fill="#1e1e1e"/>
<rect x="445.36" y="549.8" width="1.7" height="1.7" fill="#1e1e1e"/>
<rect x="440.7" y="511.65" width="1.1" height="1.5" fill="#444"/>
<rect x="440.7" y="516.75" width="1.1" height="1.5" fill="#444"/>
<rect x="440.7" y="521.85" width="1.1" height="1.5" fill="#444"/>
<rect x="440.7" y="526.95" width="1.1" height="1.5" fill="#444"/>
<rect x="440.7" y="532.05" width="1.1" height="1.5" fill="#444"/>
<rect x="440.7" y="537.15" width="1.1" height="1.5" fill="#444"/>
<rect x="440.7" y="542.25" width="1.1" height="1.5" fill="#444"/>
<rect x="440.7" y="547.35" width="1.1" height="1.5" fill="#444"/>
<rect x="440.7" y="506.95" width="9.42" height="46.3" fill="none" stroke="#111" stroke-width="1"/>
<rect x="450.12" y="503.83" width="9.42" height="49.43" fill="#111"/>
<rect x="450.12" y="504.13" width="3" height="4.4" fill="#fff"/>
<rect x="450.12" y="514.13" width="3" height="4.4" fill="#fff"/>
<rect x="450.12" y="524.13" width="3" height="4.4" fill="#fff"/>
<rect x="450.12" y="534.13" width="3" height="4.4" fill="#fff"/>
<rect x="450.12" y="544.13" width="3" height="4.4" fill="#fff"/>
<rect x="453.72" y="509.13" width="4.4" height="4.4" fill="#fff"/>
<rect x="453.72" y="519.13" width="4.4" height="4.4" fill="#fff"/>
<rect x="453.72" y="529.13" width="4.4" height="4.4" fill="#fff"/>
<rect x="453.72" y="539.13" width="4.4" height="4.4" fill="#fff"/>
<rect x="453.72" y="549.13" width="4.4" height="4.13" fill="#fff"/>
<rect x="458.72" y="504.13" width="0.82" height="4.4" fill="#fff"/>
<rect x="458.72" y="514.13" width="0.82" height="4.4" fill="#fff"/>
<rect x="458.72" y="524.13" width="0.82" height="4.4" fill="#fff"/>
<rect x="458.72" y="534.13" width="0.82" height="4.4" fill="#fff"/>
<rect x="458.72" y="544.13" width="0.82" height="4.4" fill="#fff"/>
<rect x="450.12" y="503.83" width="9.42" height="49.43" fill="none" stroke="#111" stroke-width="1"/>
<rect x="473.66" y="553.26" width="9.42" height="2.5" fill="#fff"/>
<rect x="474.96" y="553.26" width="2.6" height="2.5" fill="#bcbcbc"/>
<rect x="479.96" y="553.26" width="2.6" height="2.5" fill="#bcbcbc"/>
<rect x="473.66" y="553.26" width="9.42" height="2.5" fill="none" stroke="#111" stroke-width="1"/>
<rect x="483.08" y="553.26" width="9.42" height="0.63" fill="#fff"/>
<rect x="483.08" y="553.26" width="9.42" height="0.63" fill="none" stroke="#111" stroke-width="1"/>
<rect x="492.5" y="552.01" width="9.42" height="1.25" fill="#fff"/>
<rect x="492.5" y="552.01" width="9.42" height="1.25" fill="none" stroke="#111" stroke-width="1"/>
<rect x="501.92" y="551.69" width="9.42" height="1.56" fill="#111"/>
<rect x="501.92" y="551.99" width="3" height="1.26" fill="#fff"/>
<rect x="510.52" y="551.99" width="0.82" height="1.26" fill="#fff"/>
<rect x="501.92" y="551.69" width="9.42" height="1.56" fill="none" stroke="#111" stroke-width="1"/>
<line x1="52.2" y1="553.26" x2="517.9" y2="553.26" stroke="#2a2a2a" stroke-width="1.1"/>
<line x1="104" y1="553.26" x2="104" y2="555.76" stroke="#333" stroke-width="0.9"/>
<line x1="155.8" y1="553.26" x2="155.8" y2="555.76" stroke="#333" stroke-width="0.9"/>
<line x1="207.6" y1="553.26" x2="207.6" y2="555.76" stroke="#333" stroke-width="0.9"/>
<line x1="259.4" y1="553.26" x2="259.4" y2="555.76" stroke="#333" stroke-width="0.9"/>
<line x1="311.2" y1="553.26" x2="311.2" y2="555.76" stroke="#333" stroke-width="0.9"/>
<line x1="363" y1="553.26" x2="363" y2="555.76" stroke="#333" stroke-width="0.9"/>
<line x1="414.8" y1="553.26" x2="414.8" y2="555.76" stroke="#333" stroke-width="0.9"/>
<line x1="466.6" y1="553.26" x2="466.6" y2="555.76" stroke="#333" stroke-width="0.9"/>
<line x1="518.4" y1="553.26" x2="518.4" y2="555.76" stroke="#333" stroke-width="0.9"/>
<line x1="52.2" y1="458.8" x2="52.2" y2="569.5" stroke="#2a2a2a" stroke-width="1.2"/>
<line x1="517.9" y1="458.8" x2="517.9" y2="569.5" stroke="#4a4a4a" stroke-width="1.2"/>
<line x1="52.2" y1="568.9" x2="517.9" y2="568.9" stroke="#333" stroke-width="1.3"/>
<line x1="49.6" y1="568.9" x2="52.2" y2="568.9" stroke="#333" stroke-width="1"/>
<text x="47.8" y="571.1" font-family='"Liberation Serif", serif' font-size="7.6" text-anchor="end" fill="#111" stroke="#111" stroke-width="0.1">-50</text>
<line x1="49.6" y1="553.26" x2="52.2" y2="553.26" stroke="#333" stroke-width="1"/>
<text x="47.8" y="555.46" font-family='"Liberation Serif", serif' font-size="7.6" text-anchor="end" fill="#111" stroke="#111" stroke-width="0.1">0</text>
<line x1="49.6" y1="537.61" x2="52.2" y2="537.61" stroke="#333" stroke-width="1"/>
<text x="47.8" y="539.81" font-family='"Liberation Serif", serif' font-size="7.6" text-anchor="end" fill="#111" stroke="#111" stroke-width="0.1">50</text>
<line x1="49.6" y1="521.97" x2="52.2" y2="521.97" stroke="#333" stroke-width="1"/>
<text x="47.8" y="524.17" font-family='"Liberation Serif", serif' font-size="7.6" text-anchor="end" fill="#111" stroke="#111" stroke-width="0.1">100</text>
<line x1="49.6" y1="506.33" x2="52.2" y2="506.33" stroke="#333" stroke-width="1"/>
<text x="47.8" y="508.53" font-family='"Liberation Serif", serif' font-size="7.6" text-anchor="end" fill="#111" stroke="#111" stroke-width="0.1">150</text>
<line x1="49.6" y1="490.69" x2="52.2" y2="490.69" stroke="#333" stroke-width="1"/>
<text x="47.8" y="492.89" font-family='"Liberation Serif", serif' font-size="7.6" text-anchor="end" fill="#111" stroke="#111" stroke-width="0.1">200</text>
<line x1="49.6" y1="475.04" x2="52.2" y2="475.04" stroke="#333" stroke-width="1"/>
<text x="47.8" y="477.24" font-family='"Liberation Serif", serif' font-size="7.6" text-anchor="end" fill="#111" stroke="#111" stroke-width="0.1">250</text>
<line x1="49.6" y1="459.4" x2="52.2" y2="459.4" stroke="#333" stroke-width="1"/>
<text x="47.8" y="461.6" font-family='"Liberation Serif", serif' font-size="7.6" text-anchor="end" fill="#111" stroke="#111" stroke-width="0.1">300</text>
<text transform="translate(83.4,578.1) rotate(-90)" font-family='"Liberation Serif", serif' font-weight="bold" font-size="8.0" text-anchor="end" fill="#000" stroke="#000" stroke-width="0.15">chTNT-3</text>
<text transform="translate(135.2,578.1) rotate(-90)" font-family='"Liberation Serif", serif' font-weight="bold" font-size="8.0" text-anchor="end" fill="#000" stroke="#000" stroke-width="0.15">chTNT-3/IL-2</text>
<text transform="translate(187,578.1) rotate(-90)" font-family='"Liberation Serif", serif' font-weight="bold" font-size="8.0" text-anchor="end" fill="#000" stroke="#000" stroke-width="0.15">chTNT-3/R38G</text>
<text transform="translate(238.8,578.1) rotate(-90)" font-family='"Liberation Serif", serif' font-weight="bold" font-size="8.0" text-anchor="end" fill="#000" stroke="#000" stroke-width="0.15">chTNT-3/R38W</text>
<text transform="translate(290.6,578.1) rotate(-90)" font-family='"Liberation Serif", serif' font-weight="bold" font-size="8.0" text-anchor="end" fill="#000" stroke="#000" stroke-width="0.15">chTNT-3/D20K</text>
<text transform="translate(342.4,578.1) rotate(-90)" font-family='"Liberation Serif", serif' font-weight="bold" font-size="8.0" text-anchor="end" fill="#000" stroke="#000" stroke-width="0.15">chTNT-3/H55Y</text>
<text transform="translate(394.2,578.1) rotate(-90)" font-family='"Liberation Serif", serif' font-weight="bold" font-size="8.0" text-anchor="end" fill="#000" stroke="#000" stroke-width="0.15">chTNT-3/M39V</text>
<text transform="translate(446,578.1) rotate(-90)" font-family='"Liberation Serif", serif' font-weight="bold" font-size="8.0" text-anchor="end" fill="#000" stroke="#000" stroke-width="0.15">chTNT-3/M39L</text>
<text transform="translate(497.8,578.1) rotate(-90)" font-family='"Liberation Serif", serif' font-weight="bold" font-size="8.0" text-anchor="end" fill="#000" stroke="#000" stroke-width="0.15">chTNT-3/F42K</text>
<text transform="translate(9.9,510.1) rotate(-90)" font-family='"Liberation Serif", serif' font-size="12.2" text-anchor="middle" fill="#111" stroke="#111" stroke-width="0.08">Human TNFα</text>
<text transform="translate(24.7,509.2) rotate(-90)" font-family='"Liberation Serif", serif' font-size="12.6" text-anchor="middle" fill="#111" stroke="#111" stroke-width="0.08">(pg/mL)</text>
<text x="0.8" y="18.9" font-family='"Liberation Sans", sans-serif' font-weight="bold" font-size="26" fill="#000" stroke="#000" stroke-width="0.5">A</text>
<text x="-0.8" y="227.7" font-family='"Liberation Sans", sans-serif' font-weight="bold" font-size="26" fill="#000" stroke="#000" stroke-width="0.5">B</text>
<text x="0.6" y="453.6" font-family='"Liberation Sans", sans-serif' font-weight="bold" font-size="26" fill="#000" stroke="#000" stroke-width="0.5">C</text>
<rect x="130.4" y="644.4" width="270.6" height="46.2" fill="none" stroke="#222" stroke-width="1.5"/>
<text x="142.7" y="655.9" font-family='"Liberation Serif", serif' font-size="12" fill="#111" stroke="#111" stroke-width="0.2">Day 1</text>
<rect x="147.2" y="667.2" width="12.6" height="12.6" fill="#fff"/>
<rect x="150.6" y="667.2" width="2.3" height="12.6" fill="#c4c4c4"/>
<rect x="155.4" y="667.2" width="2.3" height="12.6" fill="#c4c4c4"/>
<rect x="147.2" y="667.2" width="12.6" height="12.6" fill="none" stroke="#111" stroke-width="1.1"/>
<text x="209.3" y="655.9" font-family='"Liberation Serif", serif' font-size="12" fill="#111" stroke="#111" stroke-width="0.2">Day 3</text>
<rect x="215.2" y="667" width="12.6" height="12.6" fill="#fff"/>
<rect x="215.2" y="671.3" width="12.6" height="2.5" fill="#141414"/>
<rect x="215.2" y="676.7" width="12.6" height="1.6" fill="#141414"/>
<rect x="215.2" y="667" width="12.6" height="12.6" fill="none" stroke="#111" stroke-width="1.1"/>
<text x="282.7" y="655.9" font-family='"Liberation Serif", serif' font-size="12" fill="#111" stroke="#111" stroke-width="0.2">Day 5</text>
<rect x="287.6" y="666.3" width="12.6" height="12.6" fill="#fff"/>
<rect x="292.2" y="668.3" width="2" height="2" fill="#1e1e1e"/>
<rect x="292.2" y="673.6" width="2" height="2" fill="#1e1e1e"/>
<rect x="297.2" y="671" width="2" height="2" fill="#1e1e1e"/>
<rect x="287.6" y="666.3" width="12.6" height="12.6" fill="none" stroke="#111" stroke-width="1.1"/>
<text x="349.7" y="655.9" font-family='"Liberation Serif", serif' font-size="12" fill="#111" stroke="#111" stroke-width="0.2">Day 7</text>
<rect x="355.1" y="666.3" width="12.6" height="12.6" fill="#111"/>
<rect x="356.1" y="667.3" width="2.3" height="2.3" fill="#fff"/>
<rect x="364.5" y="667.3" width="2.3" height="2.3" fill="#fff"/>
<rect x="356.1" y="675.7" width="2.3" height="2.3" fill="#fff"/>
<rect x="364.5" y="675.7" width="2.3" height="2.3" fill="#fff"/>
<rect x="359.1" y="670.3" width="4.8" height="4.6" fill="#fff"/>
<rect x="355.1" y="666.3" width="12.6" height="12.6" fill="none" stroke="#111" stroke-width="1.1"/></svg>
</body></html>
